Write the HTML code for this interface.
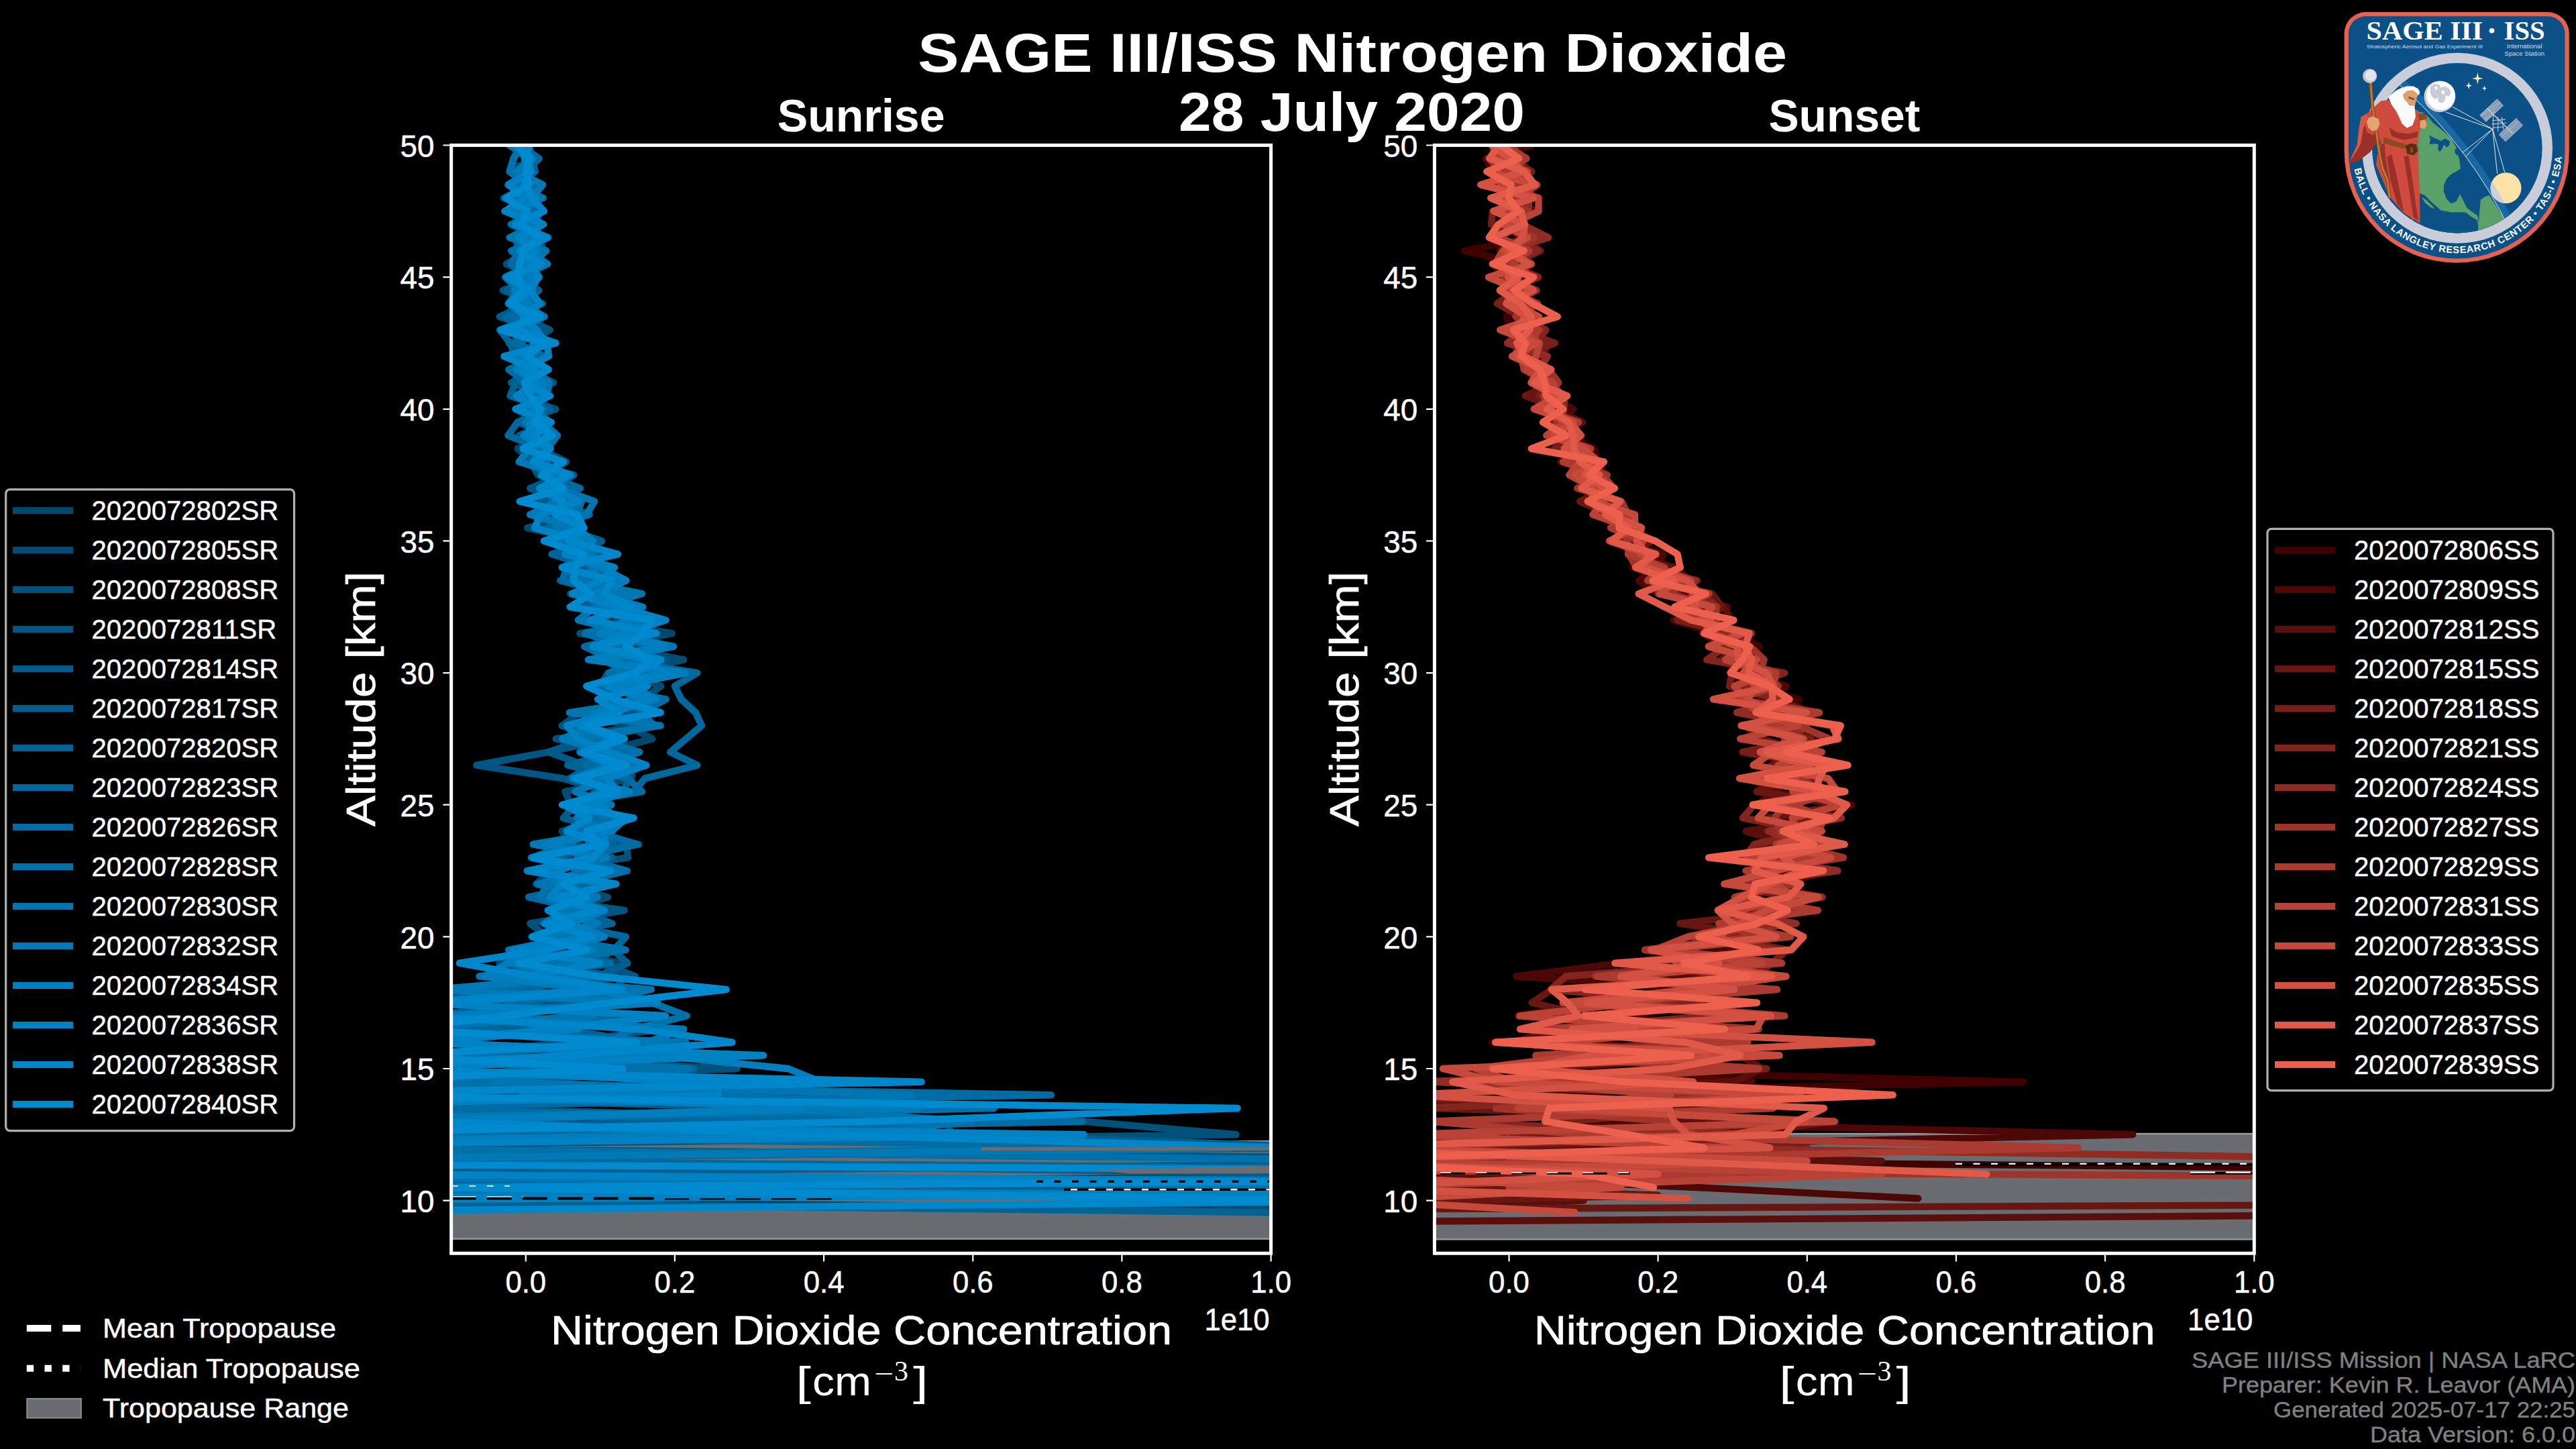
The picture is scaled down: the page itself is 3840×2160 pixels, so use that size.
<!DOCTYPE html>
<html lang="en"><head><meta charset="utf-8"><title>SAGE III/ISS Nitrogen Dioxide 28 July 2020</title>
<style>html,body{margin:0;padding:0;background:#000;overflow:hidden}svg{display:block}svg{font-family:"Liberation Sans",sans-serif;fill:#fff}</style></head><body>
<svg width="3840" height="2160" viewBox="0 0 3840 2160">
<rect width="3840" height="2160" fill="#000"/>
<text x="2016.2" y="106.9" font-size="81.4" font-weight="bold" text-anchor="middle" textLength="1296.0" lengthAdjust="spacingAndGlyphs">SAGE III/ISS Nitrogen Dioxide</text>
<text x="2015.0" y="195.2" font-size="81.4" font-weight="bold" text-anchor="middle" textLength="516.0" lengthAdjust="spacingAndGlyphs">28 July 2020</text>
<clipPath id="c1"><rect x="672.7" y="216.5" width="1221.9" height="1651.8"/></clipPath>
<g clip-path="url(#c1)">
<rect x="662.7" y="1701.2" width="1241.9" height="145.5" fill="#696c71" stroke="#97999c" stroke-width="2.5"/>
<g fill="none" stroke-width="10.4" stroke-linejoin="round" stroke-linecap="round">
<path d="M775.3,216.5 765.5,236.2 765.1,255.8 783.5,275.5 757.6,295.2 778.4,314.8 781.3,334.5 806.2,354.1 804.2,373.8 774.8,393.5 793.1,413.1 766.0,432.8 804.3,452.5 755.6,472.1 817.0,491.8 800.6,511.5 765.1,531.1 777.7,550.8 800.7,570.5 779.0,590.1 820.1,609.8 778.3,629.4 814.4,649.1 771.7,668.8 794.2,688.4 826.5,708.1 848.9,727.8 784.7,747.4 859.8,767.1 826.1,786.8 888.3,806.4 886.2,826.1 837.7,845.8 910.4,865.4 850.0,885.1 945.2,904.8 883.1,924.4 1001.5,944.1 912.9,963.7 964.9,983.4 970.0,1003.1 917.2,1022.7 988.8,1042.4 861.9,1062.1 934.8,1081.7 972.4,1101.4 895.8,1121.1 962.4,1140.7 876.1,1160.4 916.4,1180.0 843.8,1199.7 898.4,1219.4 837.7,1239.0 855.8,1258.7 911.4,1278.4 822.0,1298.0 798.9,1317.7 892.5,1337.4 831.4,1357.0 839.9,1376.7 839.5,1396.4 811.0,1416.0 927.0,1435.7 762.4,1455.3 847.5,1475.0 737.9,1494.7 876.1,1514.3 722.7,1534.0 932.5,1553.7 657.3,1573.3 1032.7,1593.0 754.5,1612.7 1265.9,1632.3 559.1,1652.0 1176.3,1671.7 331.3,1691.3 -304.4,1711.0 418.3,1730.6 3459.0,1750.3 -812.8,1770.0 502.7,1789.6 2742.4,1809.3" stroke="rgb(0,73,110)"/>
<path d="M773.0,216.5 802.9,236.2 783.0,255.8 764.1,275.5 796.5,295.2 769.2,314.8 806.3,334.5 779.8,354.1 787.3,373.8 754.8,393.5 798.4,413.1 788.5,432.8 765.8,452.5 804.1,472.1 776.4,491.8 797.2,511.5 774.8,531.1 810.0,550.8 767.3,570.5 805.9,590.1 815.8,609.8 797.4,629.4 814.1,649.1 805.5,668.8 844.1,688.4 814.2,708.1 841.2,727.8 814.8,747.4 866.2,767.1 786.3,786.8 877.0,806.4 881.6,826.1 875.8,845.8 888.2,865.4 869.7,885.1 893.9,904.8 926.9,924.4 883.7,944.1 914.9,963.7 1019.2,983.4 927.8,1003.1 985.3,1022.7 957.7,1042.4 863.8,1062.1 838.4,1081.7 906.2,1101.4 877.1,1121.1 943.4,1140.7 941.4,1160.4 842.6,1180.0 851.0,1199.7 872.0,1219.4 898.5,1239.0 844.9,1258.7 821.5,1278.4 907.9,1298.0 837.8,1317.7 906.1,1337.4 837.3,1357.0 898.8,1376.7 873.2,1396.4 882.3,1416.0 744.4,1435.7 860.4,1455.3 713.7,1475.0 873.4,1494.7 639.2,1514.3 864.1,1534.0 595.3,1553.7 630.0,1573.3 487.8,1593.0 1154.3,1612.7 473.7,1632.3 715.9,1652.0 1312.5,1671.7 503.0,1691.3 -164.8,1711.0 2762.4,1730.6 2271.7,1750.3 215.6,1770.0 3481.1,1789.6" stroke="rgb(0,77,117)"/>
<path d="M767.0,216.5 798.6,236.2 779.1,255.8 796.2,275.5 770.9,295.2 805.4,314.8 770.6,334.5 805.2,354.1 809.4,373.8 783.7,393.5 789.9,413.1 767.1,432.8 770.6,452.5 795.5,472.1 790.1,491.8 770.4,511.5 806.5,531.1 785.5,550.8 825.1,570.5 765.7,590.1 828.3,609.8 771.8,629.4 820.7,649.1 791.0,668.8 791.3,688.4 802.0,708.1 845.3,727.8 795.4,747.4 867.6,767.1 831.0,786.8 862.8,806.4 869.5,826.1 847.0,845.8 879.7,865.4 922.6,885.1 867.2,904.8 975.7,924.4 864.5,944.1 978.0,963.7 898.6,983.4 1006.3,1003.1 905.6,1022.7 967.4,1042.4 887.7,1062.1 960.3,1081.7 828.7,1101.4 916.7,1121.1 901.2,1140.7 910.3,1160.4 887.6,1180.0 863.1,1199.7 910.6,1219.4 870.5,1239.0 933.9,1258.7 936.1,1278.4 799.1,1298.0 888.1,1317.7 799.0,1337.4 901.0,1357.0 790.2,1376.7 815.9,1396.4 864.2,1416.0 810.9,1435.7 912.2,1455.3 675.5,1475.0 962.6,1494.7 644.0,1514.3 983.9,1534.0 849.8,1553.7 643.2,1573.3 1098.6,1593.0 509.7,1612.7 1377.9,1632.3 493.0,1652.0 1616.1,1671.7 1842.4,1691.3 263.9,1711.0 2292.7,1730.6 2382.2,1750.3 2584.5,1770.0" stroke="rgb(0,82,123)"/>
<path d="M778.6,216.5 793.1,236.2 760.3,255.8 797.1,275.5 784.1,295.2 803.2,314.8 764.9,334.5 806.1,354.1 777.9,373.8 787.5,393.5 804.4,413.1 749.7,432.8 804.7,452.5 779.4,472.1 819.7,491.8 758.6,511.5 781.5,531.1 792.7,550.8 802.9,570.5 772.0,590.1 795.8,609.8 819.4,629.4 773.6,649.1 806.7,668.8 779.4,688.4 839.9,708.1 790.1,727.8 839.9,747.4 812.0,767.1 864.0,786.8 823.0,806.4 899.9,826.1 860.7,845.8 912.6,865.4 868.8,885.1 918.1,904.8 946.6,924.4 882.3,944.1 905.3,963.7 991.8,983.4 927.4,1003.1 941.8,1022.7 893.7,1042.4 947.0,1062.1 837.5,1081.7 906.1,1101.4 817.1,1121.1 710.5,1140.7 839.3,1160.4 907.1,1180.0 875.8,1199.7 902.5,1219.4 847.9,1239.0 919.6,1258.7 826.6,1278.4 912.0,1298.0 887.8,1317.7 788.1,1337.4 930.5,1357.0 819.0,1376.7 860.8,1396.4 909.1,1416.0 895.9,1435.7 946.9,1455.3 747.6,1475.0 847.7,1494.7 732.8,1514.3 741.8,1534.0 646.7,1553.7 522.2,1573.3 869.4,1593.0 989.9,1612.7 732.5,1632.3 495.8,1652.0 1412.6,1671.7 1417.4,1691.3 490.6,1711.0 2481.7,1730.6 404.0,1750.3 2523.2,1770.0 3087.5,1789.6 2424.0,1809.3" stroke="rgb(0,86,130)"/>
<path d="M784.2,216.5 795.3,236.2 768.9,255.8 792.3,275.5 751.0,295.2 807.7,314.8 792.1,334.5 780.4,354.1 814.1,373.8 778.8,393.5 781.4,413.1 786.4,432.8 786.5,452.5 744.9,472.1 802.1,491.8 774.1,511.5 795.4,531.1 797.9,550.8 762.0,570.5 815.7,590.1 768.4,609.8 807.1,629.4 788.6,649.1 800.2,668.8 777.6,688.4 855.5,708.1 824.7,727.8 809.1,747.4 839.8,767.1 820.3,786.8 893.3,806.4 832.3,826.1 905.7,845.8 834.9,865.4 910.2,885.1 865.8,904.8 964.6,924.4 942.5,944.1 927.8,963.7 981.3,983.4 906.8,1003.1 894.4,1022.7 982.6,1042.4 909.2,1062.1 957.5,1081.7 872.4,1101.4 818.2,1121.1 870.6,1140.7 863.1,1160.4 913.8,1180.0 844.4,1199.7 935.6,1219.4 871.2,1239.0 952.2,1258.7 798.5,1278.4 924.3,1298.0 842.0,1317.7 874.8,1337.4 834.5,1357.0 818.9,1376.7 877.6,1396.4 894.1,1416.0 760.6,1435.7 919.8,1455.3 929.2,1475.0 726.1,1494.7 919.5,1514.3 630.5,1534.0 954.1,1553.7 645.9,1573.3 1001.8,1593.0 709.1,1612.7 493.8,1632.3 1153.7,1652.0 602.7,1671.7 662.3,1691.3 85.4,1711.0 614.0,1730.6 2031.6,1750.3" stroke="rgb(0,91,137)"/>
<path d="M758.6,216.5 794.1,236.2 781.7,255.8 780.0,275.5 792.6,295.2 775.7,314.8 809.0,334.5 773.3,354.1 769.2,373.8 782.9,393.5 783.3,413.1 756.4,432.8 808.7,452.5 755.7,472.1 774.7,491.8 769.1,511.5 808.1,531.1 802.7,550.8 795.7,570.5 774.9,590.1 817.0,609.8 790.5,629.4 814.4,649.1 788.9,668.8 835.4,688.4 822.4,708.1 854.2,727.8 831.5,747.4 825.9,767.1 839.4,786.8 897.1,806.4 862.9,826.1 888.4,845.8 864.8,865.4 926.2,885.1 945.7,904.8 943.2,924.4 952.7,944.1 968.9,963.7 938.9,983.4 914.5,1003.1 905.6,1022.7 959.2,1042.4 883.0,1062.1 975.9,1081.7 886.8,1101.4 933.8,1121.1 881.3,1140.7 849.1,1160.4 936.0,1180.0 857.3,1199.7 839.8,1219.4 913.5,1239.0 806.3,1258.7 912.8,1278.4 857.4,1298.0 849.8,1317.7 880.0,1337.4 860.0,1357.0 886.3,1376.7 815.1,1396.4 913.5,1416.0 935.4,1435.7 891.2,1455.3 702.2,1475.0 651.2,1494.7 934.6,1514.3 621.2,1534.0 953.0,1553.7 654.7,1573.3 873.6,1593.0 515.0,1612.7 1173.1,1632.3 537.8,1652.0 726.5,1671.7 1438.9,1691.3 2000.1,1711.0 2481.7,1730.6 433.2,1750.3 2120.5,1770.0 -361.4,1789.6" stroke="rgb(0,95,143)"/>
<path d="M788.9,216.5 792.7,236.2 797.7,255.8 768.4,275.5 801.1,295.2 773.5,314.8 787.1,334.5 810.5,354.1 771.0,373.8 785.3,393.5 771.3,413.1 803.2,432.8 779.2,452.5 798.5,472.1 745.0,491.8 760.6,511.5 768.0,531.1 801.0,550.8 768.8,570.5 760.5,590.1 819.5,609.8 777.8,629.4 820.5,649.1 819.8,668.8 787.8,688.4 850.1,708.1 806.1,727.8 857.3,747.4 848.5,767.1 815.1,786.8 877.2,806.4 822.4,826.1 885.4,845.8 875.9,865.4 936.7,885.1 876.8,904.8 940.1,924.4 892.6,944.1 968.7,963.7 926.2,983.4 976.2,1003.1 899.5,1022.7 970.8,1042.4 892.7,1062.1 963.1,1081.7 893.1,1101.4 921.2,1121.1 846.0,1140.7 937.7,1160.4 928.9,1180.0 860.6,1199.7 895.5,1219.4 850.7,1239.0 913.8,1258.7 806.6,1278.4 906.7,1298.0 805.8,1317.7 870.5,1337.4 858.1,1357.0 912.5,1376.7 802.1,1396.4 923.7,1416.0 809.8,1435.7 850.3,1455.3 658.8,1475.0 942.3,1494.7 595.1,1514.3 838.8,1534.0 956.5,1553.7 604.5,1573.3 1034.6,1593.0 513.3,1612.7 1288.7,1632.3 376.3,1652.0 1111.6,1671.7 715.9,1691.3 1994.3,1711.0 -108.7,1730.6 3243.0,1750.3 -143.7,1770.0 355.4,1789.6 2055.1,1809.3" stroke="rgb(0,99,150)"/>
<path d="M773.6,216.5 803.6,236.2 782.7,255.8 766.6,275.5 790.7,295.2 787.8,314.8 767.0,334.5 817.3,354.1 762.0,373.8 787.6,393.5 780.9,413.1 765.1,432.8 805.6,452.5 754.2,472.1 801.7,491.8 765.2,511.5 812.1,531.1 761.5,550.8 800.7,570.5 795.3,590.1 811.0,609.8 771.6,629.4 757.4,649.1 806.5,668.8 833.4,688.4 812.4,708.1 865.1,727.8 821.3,747.4 878.7,767.1 818.0,786.8 833.4,806.4 866.0,826.1 882.2,845.8 918.9,865.4 874.6,885.1 953.3,904.8 884.1,924.4 955.9,944.1 934.4,963.7 916.8,983.4 1039.3,1003.1 1005.9,1022.7 1015.5,1042.4 1037.0,1062.1 1045.9,1081.7 1022.6,1101.4 999.3,1121.1 1039.3,1140.7 961.5,1160.4 944.6,1180.0 851.5,1199.7 912.8,1219.4 858.2,1239.0 841.1,1258.7 893.5,1278.4 797.6,1298.0 876.1,1317.7 788.5,1337.4 875.0,1357.0 831.4,1376.7 933.0,1396.4 915.2,1416.0 753.7,1435.7 911.4,1455.3 769.2,1475.0 931.6,1494.7 662.1,1514.3 698.0,1534.0 970.0,1553.7 672.3,1573.3 1028.0,1593.0 511.0,1612.7 1091.4,1632.3 484.5,1652.0 1260.2,1671.7 365.2,1691.3 1907.1,1711.0 496.2,1730.6 3268.0,1750.3 -611.3,1770.0" stroke="rgb(0,104,156)"/>
<path d="M782.9,216.5 795.5,236.2 778.1,255.8 800.9,275.5 759.1,295.2 803.0,314.8 761.7,334.5 807.6,354.1 776.5,373.8 761.5,393.5 799.6,413.1 786.2,432.8 805.3,452.5 765.2,472.1 794.8,491.8 772.1,511.5 806.6,531.1 758.4,550.8 784.6,570.5 780.0,590.1 801.6,609.8 781.9,629.4 821.8,649.1 798.5,668.8 815.2,688.4 826.3,708.1 819.7,727.8 835.7,747.4 862.9,767.1 853.4,786.8 862.2,806.4 886.5,826.1 845.1,845.8 838.2,865.4 933.2,885.1 886.5,904.8 945.1,924.4 954.2,944.1 871.3,963.7 912.9,983.4 951.9,1003.1 881.5,1022.7 992.7,1042.4 955.2,1062.1 975.7,1081.7 862.7,1101.4 928.8,1121.1 873.3,1140.7 935.5,1160.4 957.1,1180.0 840.8,1199.7 884.6,1219.4 885.7,1239.0 949.5,1258.7 860.3,1278.4 935.0,1298.0 852.7,1317.7 890.3,1337.4 842.2,1357.0 811.3,1376.7 850.9,1396.4 760.9,1416.0 909.9,1435.7 751.4,1455.3 951.5,1475.0 757.3,1494.7 907.1,1514.3 589.0,1534.0 934.1,1553.7 647.2,1573.3 839.6,1593.0 466.7,1612.7 1566.9,1632.3 454.4,1652.0 1613.1,1671.7 620.7,1691.3 1776.6,1711.0 -123.8,1730.6 3386.9,1750.3 2027.9,1770.0 3126.7,1789.6" stroke="rgb(0,108,163)"/>
<path d="M779.2,216.5 765.3,236.2 759.6,255.8 787.8,275.5 762.2,295.2 786.8,314.8 767.1,334.5 808.2,354.1 764.6,373.8 795.2,393.5 779.1,413.1 776.9,432.8 768.2,452.5 805.6,472.1 768.4,491.8 802.8,511.5 794.2,531.1 769.4,550.8 794.1,570.5 803.0,590.1 797.4,609.8 819.5,629.4 783.3,649.1 792.1,668.8 800.4,688.4 833.4,708.1 826.1,727.8 867.1,747.4 859.1,767.1 867.1,786.8 848.6,806.4 878.7,826.1 839.1,845.8 865.6,865.4 910.1,885.1 897.6,904.8 968.5,924.4 872.8,944.1 930.6,963.7 956.6,983.4 908.2,1003.1 952.9,1022.7 890.9,1042.4 985.1,1062.1 860.2,1081.7 886.1,1101.4 953.2,1121.1 894.5,1140.7 885.5,1160.4 895.5,1180.0 848.3,1199.7 906.9,1219.4 863.9,1239.0 882.8,1258.7 808.0,1278.4 928.8,1298.0 815.3,1317.7 806.2,1337.4 872.1,1357.0 827.9,1376.7 808.4,1396.4 932.6,1416.0 802.4,1435.7 887.5,1455.3 700.6,1475.0 971.3,1494.7 1023.7,1514.3 945.0,1534.0 904.5,1553.7 673.3,1573.3 1028.4,1593.0 625.1,1612.7 1051.1,1632.3 1481.7,1652.0 523.3,1671.7 591.5,1691.3 398.2,1711.0 2160.2,1730.6 3060.5,1750.3 2890.2,1770.0 318.3,1789.6 429.9,1809.3" stroke="rgb(0,113,170)"/>
<path d="M761.1,216.5 787.1,236.2 787.8,255.8 757.3,275.5 809.6,295.2 752.3,314.8 800.1,334.5 759.6,354.1 813.7,373.8 793.8,393.5 753.2,413.1 773.6,432.8 757.6,452.5 785.7,472.1 774.9,491.8 801.6,511.5 787.7,531.1 795.7,550.8 819.0,570.5 815.0,590.1 792.5,609.8 808.5,629.4 830.9,649.1 816.1,668.8 802.0,688.4 843.6,708.1 833.1,727.8 886.1,747.4 874.3,767.1 829.6,786.8 874.4,806.4 865.2,826.1 887.4,845.8 858.7,865.4 957.1,885.1 887.3,904.8 861.9,924.4 944.4,944.1 886.1,963.7 901.9,983.4 931.7,1003.1 941.9,1022.7 978.9,1042.4 849.0,1062.1 984.6,1081.7 848.0,1101.4 890.9,1121.1 939.7,1140.7 887.5,1160.4 922.7,1180.0 864.8,1199.7 933.6,1219.4 863.3,1239.0 853.3,1258.7 791.8,1278.4 877.9,1298.0 801.3,1317.7 885.0,1337.4 853.2,1357.0 810.5,1376.7 866.1,1396.4 758.0,1416.0 879.7,1435.7 714.6,1455.3 970.7,1475.0 881.7,1494.7 884.6,1514.3 561.6,1534.0 1022.4,1553.7 599.8,1573.3 858.8,1593.0 736.5,1612.7 1358.9,1632.3 1150.9,1652.0 1446.9,1671.7 1275.9,1691.3 113.3,1711.0 -87.2,1730.6 70.3,1750.3 2237.1,1770.0" stroke="rgb(0,117,176)"/>
<path d="M771.2,216.5 793.4,236.2 770.5,255.8 809.1,275.5 792.5,295.2 760.2,314.8 803.6,334.5 792.3,354.1 786.6,373.8 816.2,393.5 774.2,413.1 793.4,432.8 778.4,452.5 811.6,472.1 767.3,491.8 808.1,511.5 775.9,531.1 778.3,550.8 815.6,570.5 775.8,590.1 806.0,609.8 783.8,629.4 821.4,649.1 790.0,668.8 773.7,688.4 837.6,708.1 835.8,727.8 831.2,747.4 790.0,767.1 859.0,786.8 830.5,806.4 882.0,826.1 884.1,845.8 892.2,865.4 929.5,885.1 893.2,904.8 955.7,924.4 903.9,944.1 1003.9,963.7 905.1,983.4 964.1,1003.1 938.4,1022.7 941.7,1042.4 885.9,1062.1 886.9,1081.7 838.3,1101.4 907.5,1121.1 903.3,1140.7 904.9,1160.4 857.4,1180.0 911.5,1199.7 859.9,1219.4 908.2,1239.0 794.6,1258.7 904.8,1278.4 808.1,1298.0 832.7,1317.7 890.4,1337.4 819.7,1357.0 891.2,1376.7 811.1,1396.4 885.3,1416.0 762.5,1435.7 878.3,1455.3 648.7,1475.0 937.1,1494.7 663.0,1514.3 1019.3,1534.0 965.1,1553.7 1035.2,1573.3 584.0,1593.0 1199.9,1612.7 496.9,1632.3 1369.1,1652.0 286.9,1671.7 1325.3,1691.3 1836.3,1711.0 267.8,1730.6 555.9,1750.3 144.2,1770.0 3381.3,1789.6" stroke="rgb(0,122,183)"/>
<path d="M778.9,216.5 787.3,236.2 786.3,255.8 782.0,275.5 799.9,295.2 781.0,314.8 809.1,334.5 776.8,354.1 801.3,373.8 773.5,393.5 797.0,413.1 766.7,432.8 789.4,452.5 787.6,472.1 787.4,491.8 795.8,511.5 789.4,531.1 769.4,550.8 806.1,570.5 813.0,590.1 773.4,609.8 820.7,629.4 780.4,649.1 817.3,668.8 796.6,688.4 850.7,708.1 808.6,727.8 839.5,747.4 854.5,767.1 858.9,786.8 884.1,806.4 850.1,826.1 896.6,845.8 933.4,865.4 885.8,885.1 958.2,904.8 934.9,924.4 894.8,944.1 990.6,963.7 876.9,983.4 1021.8,1003.1 924.8,1022.7 978.2,1042.4 891.7,1062.1 870.6,1081.7 921.1,1101.4 864.4,1121.1 911.9,1140.7 853.6,1160.4 938.8,1180.0 868.3,1199.7 934.3,1219.4 911.4,1239.0 815.0,1258.7 886.8,1278.4 785.6,1298.0 904.1,1317.7 840.4,1337.4 901.4,1357.0 850.2,1376.7 900.9,1396.4 815.2,1416.0 756.9,1435.7 722.3,1455.3 890.6,1475.0 980.4,1494.7 688.7,1514.3 862.1,1534.0 635.6,1553.7 980.8,1573.3 1174.8,1593.0 1223.4,1612.7 778.2,1632.3 1197.6,1652.0 627.2,1671.7 1118.8,1691.3 -159.4,1711.0 330.2,1730.6 551.2,1750.3 3265.6,1770.0 -320.6,1789.6 3.9,1809.3" stroke="rgb(0,126,190)"/>
<path d="M777.8,216.5 781.7,236.2 792.5,255.8 758.5,275.5 781.1,295.2 753.2,314.8 810.1,334.5 772.5,354.1 795.5,373.8 790.7,393.5 802.8,413.1 790.0,432.8 804.6,452.5 781.3,472.1 799.1,491.8 815.5,511.5 817.9,531.1 776.5,550.8 798.5,570.5 769.8,590.1 801.6,609.8 791.9,629.4 786.8,649.1 818.9,668.8 804.9,688.4 820.1,708.1 825.9,727.8 862.4,747.4 805.7,767.1 797.1,786.8 865.0,806.4 842.3,826.1 915.9,845.8 894.8,865.4 852.9,885.1 923.3,904.8 992.6,924.4 931.5,944.1 887.8,963.7 961.4,983.4 992.3,1003.1 905.5,1022.7 967.5,1042.4 915.3,1062.1 845.0,1081.7 861.2,1101.4 909.5,1121.1 963.5,1140.7 904.3,1160.4 922.0,1180.0 885.9,1199.7 925.1,1219.4 899.2,1239.0 903.3,1258.7 884.9,1278.4 833.6,1298.0 837.7,1317.7 820.1,1337.4 896.3,1357.0 812.3,1376.7 881.7,1396.4 765.7,1416.0 894.1,1435.7 785.7,1455.3 886.9,1475.0 623.3,1494.7 992.0,1514.3 823.8,1534.0 628.2,1553.7 1138.1,1573.3 557.6,1593.0 1070.3,1612.7 1070.4,1632.3 284.6,1652.0 268.2,1671.7 1615.8,1691.3 110.3,1711.0 -308.4,1730.6 506.3,1750.3 3237.8,1770.0 390.1,1789.6" stroke="rgb(0,130,196)"/>
<path d="M788.5,216.5 782.3,236.2 789.3,255.8 781.7,275.5 792.8,295.2 811.0,314.8 767.5,334.5 815.8,354.1 775.3,373.8 806.5,393.5 756.0,413.1 790.2,432.8 764.2,452.5 782.4,472.1 771.5,491.8 828.5,511.5 751.5,531.1 798.1,550.8 781.6,570.5 820.0,590.1 768.8,609.8 821.8,629.4 796.0,649.1 820.5,668.8 794.3,688.4 848.9,708.1 804.1,727.8 839.3,747.4 827.9,767.1 870.2,786.8 848.6,806.4 921.0,826.1 837.9,845.8 912.4,865.4 900.8,885.1 941.7,904.8 878.9,924.4 978.5,944.1 884.0,963.7 985.2,983.4 944.2,1003.1 965.0,1022.7 891.6,1042.4 922.6,1062.1 865.9,1081.7 918.8,1101.4 871.3,1121.1 913.2,1140.7 870.0,1160.4 907.1,1180.0 839.7,1199.7 878.2,1219.4 844.8,1239.0 902.2,1258.7 882.7,1278.4 789.2,1298.0 918.4,1317.7 832.7,1337.4 884.5,1357.0 814.5,1376.7 883.7,1396.4 811.6,1416.0 684.9,1435.7 795.5,1455.3 927.3,1475.0 666.9,1494.7 624.8,1514.3 954.5,1534.0 1091.5,1553.7 848.4,1573.3 465.2,1593.0 1373.6,1612.7 345.5,1632.3 516.0,1652.0 641.8,1671.7 1216.6,1691.3 1926.6,1711.0 2267.2,1730.6 3449.8,1750.3 3501.3,1770.0 2141.1,1789.6 111.3,1809.3" stroke="rgb(0,135,203)"/>
<path d="M768.9,216.5 790.5,236.2 783.9,255.8 788.5,275.5 754.6,295.2 785.0,314.8 778.0,334.5 803.6,354.1 780.0,373.8 774.7,393.5 773.3,413.1 779.5,432.8 759.5,452.5 806.1,472.1 746.7,491.8 810.9,511.5 785.4,531.1 817.6,550.8 782.4,570.5 790.4,590.1 806.0,609.8 797.0,629.4 823.5,649.1 779.5,668.8 840.0,688.4 807.0,708.1 840.2,727.8 774.7,747.4 860.3,767.1 870.4,786.8 810.8,806.4 871.0,826.1 857.1,845.8 855.1,865.4 880.5,885.1 849.6,904.8 971.2,924.4 957.4,944.1 933.0,963.7 968.5,983.4 946.1,1003.1 874.3,1022.7 915.7,1042.4 983.8,1062.1 875.2,1081.7 930.9,1101.4 870.7,1121.1 933.9,1140.7 857.7,1160.4 920.2,1180.0 838.0,1199.7 944.7,1219.4 874.7,1239.0 898.4,1258.7 795.6,1278.4 909.8,1298.0 839.4,1317.7 874.2,1337.4 816.7,1357.0 852.3,1376.7 792.9,1396.4 875.0,1416.0 774.0,1435.7 892.0,1455.3 1082.6,1475.0 912.4,1494.7 751.7,1514.3 594.6,1534.0 949.7,1553.7 574.2,1573.3 928.5,1593.0 489.8,1612.7 440.7,1632.3 1844.6,1652.0 1302.7,1671.7 349.4,1691.3 -55.5,1711.0 -545.3,1730.6 3401.7,1750.3 655.1,1770.0 2015.1,1789.6 2971.6,1809.3" stroke="rgb(0,139,209)"/>
</g>
<path d="M672.7 1786.5H990" stroke="#000" stroke-width="4.2" stroke-dasharray="37 16" fill="none"/>
<path d="M990.7 1787.4H1245" stroke="#000" stroke-width="2.4" stroke-dasharray="37 16" fill="none"/>
<path d="M672.7 1783.9H780" stroke="#fff" stroke-width="1.2" stroke-dasharray="37 16" fill="none"/>
<path d="M672.7 1768.0H760" stroke="#cfe6f5" stroke-width="2" stroke-dasharray="10 16.5" fill="none"/>
<path d="M1463 1709.9H1894.6V1715H1463Z" fill="#696c71"/>
<path d="M1626 1743.7L1894.6 1737.8V1749.5H1684Z" fill="#696c71"/>
<path d="M1545 1761.1H1894.6" stroke="#000" stroke-width="3.4" stroke-dasharray="10 16.5" fill="none"/>
<path d="M1586 1773.2H1894.6" stroke="#000" stroke-width="3.4" fill="none"/>
<path d="M1596 1773.2H1894.6" stroke="#fff" stroke-width="2.4" stroke-dasharray="10 16.5" fill="none"/>
</g>
<rect x="672.7" y="216.5" width="1221.9" height="1651.8" fill="none" stroke="#fff" stroke-width="5"/>
<path d="M670.2 1789.6h-9.8M670.2 1593.0h-9.8M670.2 1396.4h-9.8M670.2 1199.7h-9.8M670.2 1003.1h-9.8M670.2 806.4h-9.8M670.2 609.8h-9.8M670.2 413.1h-9.8M670.2 216.5h-9.8M783.8 1870.8v9.8M1005.9 1870.8v9.8M1228.1 1870.8v9.8M1450.3 1870.8v9.8M1672.4 1870.8v9.8M1894.6 1870.8v9.8" stroke="#fff" stroke-width="2.2" fill="none"/>
<clipPath id="c2"><rect x="2138.4" y="216.5" width="1221.9" height="1651.8"/></clipPath>
<g clip-path="url(#c2)">
<rect x="2128.4" y="1690.1" width="1241.9" height="157.3" fill="#696c71" stroke="#97999c" stroke-width="2.5"/>
<g fill="none" stroke-width="10.4" stroke-linejoin="round" stroke-linecap="round">
<path d="M2239.6,216.5 2262.4,236.2 2231.6,255.8 2290.9,275.5 2265.3,295.2 2258.4,314.8 2239.0,334.5 2288.3,354.1 2182.8,373.8 2270.7,393.5 2279.2,413.1 2262.7,432.8 2276.4,452.5 2245.5,472.1 2253.4,491.8 2257.0,511.5 2286.3,531.1 2282.4,550.8 2320.1,570.5 2307.5,590.1 2319.4,609.8 2339.0,629.4 2339.2,649.1 2377.1,668.8 2379.3,688.4 2395.6,708.1 2365.3,727.8 2410.6,747.4 2391.6,767.1 2425.2,786.8 2409.3,806.4 2471.7,826.1 2432.6,845.8 2497.5,865.4 2502.6,885.1 2557.1,904.8 2500.3,924.4 2586.7,944.1 2623.0,963.7 2579.5,983.4 2579.7,1003.1 2602.3,1022.7 2681.7,1042.4 2664.3,1062.1 2623.9,1081.7 2691.4,1101.4 2596.2,1121.1 2703.7,1140.7 2606.4,1160.4 2706.8,1180.0 2612.6,1199.7 2720.1,1219.4 2668.0,1239.0 2712.7,1258.7 2610.8,1278.4 2678.4,1298.0 2615.8,1317.7 2695.2,1337.4 2666.0,1357.0 2624.4,1376.7 2516.6,1396.4 2614.1,1416.0 2619.0,1435.7 2327.1,1455.3 2393.5,1475.0 2572.2,1494.7 2409.5,1514.3 2592.8,1534.0 2224.0,1553.7 2592.6,1573.3 2221.0,1593.0 3015.9,1612.7 2086.2,1632.3 2489.0,1652.0 2576.7,1671.7 2305.0,1691.3 2027.3,1711.0 2360.6,1730.6 4026.8,1746.4" stroke="rgb(64,0,0)"/>
<path d="M2283.3,216.5 2215.3,236.2 2224.2,255.8 2272.0,275.5 2237.4,295.2 2263.3,314.8 2253.7,334.5 2264.1,354.1 2235.1,373.8 2282.5,393.5 2242.3,413.1 2253.5,432.8 2241.5,452.5 2287.8,472.1 2257.3,491.8 2266.6,511.5 2288.0,531.1 2274.6,550.8 2316.0,570.5 2308.1,590.1 2345.0,609.8 2322.6,629.4 2357.2,649.1 2315.7,668.8 2364.9,688.4 2386.7,708.1 2373.8,727.8 2401.3,747.4 2393.4,767.1 2441.0,786.8 2419.0,806.4 2479.5,826.1 2470.6,845.8 2443.0,865.4 2472.1,885.1 2575.3,904.8 2494.4,924.4 2562.9,944.1 2581.3,963.7 2581.6,983.4 2584.3,1003.1 2662.8,1022.7 2621.6,1042.4 2667.5,1062.1 2641.1,1081.7 2704.0,1101.4 2634.2,1121.1 2725.3,1140.7 2680.3,1160.4 2633.7,1180.0 2760.5,1199.7 2676.4,1219.4 2612.7,1239.0 2693.3,1258.7 2650.3,1278.4 2708.5,1298.0 2619.5,1317.7 2717.4,1337.4 2603.8,1357.0 2653.1,1376.7 2539.1,1396.4 2592.4,1416.0 2417.0,1435.7 2260.6,1455.3 2543.1,1475.0 2373.0,1494.7 2263.0,1514.3 2566.3,1534.0 2266.3,1553.7 2581.2,1573.3 2293.9,1593.0 2611.6,1612.7 2178.6,1632.3 2563.8,1652.0 2348.4,1671.7 3179.2,1691.3 2249.5,1711.0 2638.3,1730.6 2082.9,1750.3 2527.2,1770.0 2859.3,1786.5" stroke="rgb(77,7,6)"/>
<path d="M2250.5,216.5 2260.2,236.2 2223.9,255.8 2262.2,275.5 2248.3,295.2 2291.3,314.8 2237.5,334.5 2232.3,354.1 2278.7,373.8 2227.4,393.5 2241.0,413.1 2264.1,432.8 2262.9,452.5 2290.9,472.1 2295.3,491.8 2268.6,511.5 2292.6,531.1 2282.5,550.8 2321.7,570.5 2315.6,590.1 2316.0,609.8 2359.2,629.4 2317.1,649.1 2356.8,668.8 2326.9,688.4 2382.3,708.1 2387.5,727.8 2394.6,747.4 2418.4,767.1 2439.3,786.8 2442.7,806.4 2426.8,826.1 2495.0,845.8 2519.6,865.4 2514.2,885.1 2571.0,904.8 2580.0,924.4 2538.4,944.1 2570.3,963.7 2614.3,983.4 2584.0,1003.1 2634.1,1022.7 2576.5,1042.4 2644.2,1062.1 2617.7,1081.7 2695.3,1101.4 2654.1,1121.1 2748.1,1140.7 2608.7,1160.4 2650.4,1180.0 2619.1,1199.7 2732.1,1219.4 2602.9,1239.0 2667.1,1258.7 2592.9,1278.4 2730.3,1298.0 2645.9,1317.7 2701.8,1337.4 2608.8,1357.0 2655.6,1376.7 2562.0,1396.4 2630.2,1416.0 2441.8,1435.7 2533.4,1455.3 2341.9,1475.0 2558.8,1494.7 2584.2,1514.3 2318.8,1534.0 2256.4,1553.7 2594.8,1573.3 2626.5,1593.0 2585.1,1612.7 2082.8,1632.3 2272.1,1652.0 2585.5,1671.7 2471.6,1691.3 1916.2,1711.0 2804.9,1730.6 2249.5,1750.3 1916.2,1770.0 2360.6,1789.6 1583.0,1824.3 3804.6,1809.3" stroke="rgb(91,15,12)"/>
<path d="M2241.7,216.5 2229.6,236.2 2272.3,255.8 2239.6,275.5 2250.5,295.2 2258.1,314.8 2254.2,334.5 2267.5,354.1 2296.6,373.8 2253.7,393.5 2266.0,413.1 2253.1,432.8 2281.4,452.5 2261.3,472.1 2267.6,491.8 2307.7,511.5 2299.2,531.1 2275.0,550.8 2319.7,570.5 2273.6,590.1 2328.7,609.8 2305.3,629.4 2353.5,649.1 2342.0,668.8 2352.7,688.4 2370.3,708.1 2395.9,727.8 2355.1,747.4 2399.9,767.1 2435.5,786.8 2461.7,806.4 2429.6,826.1 2474.2,845.8 2474.0,865.4 2552.0,885.1 2566.9,904.8 2539.5,924.4 2588.5,944.1 2583.2,963.7 2566.5,983.4 2626.8,1003.1 2593.5,1022.7 2647.4,1042.4 2699.2,1062.1 2602.3,1081.7 2624.6,1101.4 2693.6,1121.1 2640.7,1140.7 2669.7,1160.4 2618.6,1180.0 2748.5,1199.7 2635.0,1219.4 2677.8,1239.0 2614.5,1258.7 2710.0,1278.4 2651.8,1298.0 2670.5,1317.7 2604.7,1337.4 2678.3,1357.0 2504.3,1376.7 2636.2,1396.4 2489.7,1416.0 2557.3,1435.7 2654.8,1455.3 2313.3,1475.0 2283.5,1494.7 2368.4,1514.3 2559.3,1534.0 2325.3,1553.7 2628.0,1573.3 2257.3,1593.0 2270.8,1612.7 2171.6,1632.3 2139.4,1652.0 2734.6,1671.7 2582.7,1691.3 2249.5,1711.0 2027.3,1730.6 2582.7,1750.3 2138.4,1770.0 2471.6,1781.8 1583.0,1804.6 4026.8,1793.6" stroke="rgb(104,22,18)"/>
<path d="M2259.3,216.5 2253.2,236.2 2283.4,255.8 2238.7,275.5 2280.4,295.2 2225.0,314.8 2223.2,334.5 2282.4,354.1 2249.6,373.8 2279.6,393.5 2248.1,413.1 2261.3,432.8 2231.8,452.5 2266.9,472.1 2261.6,491.8 2317.8,511.5 2265.3,531.1 2304.6,550.8 2312.7,570.5 2293.7,590.1 2311.0,609.8 2331.1,629.4 2342.0,649.1 2317.7,668.8 2381.9,688.4 2385.7,708.1 2379.4,727.8 2410.8,747.4 2382.4,767.1 2432.1,786.8 2421.9,806.4 2463.2,826.1 2448.1,845.8 2529.9,865.4 2491.6,885.1 2537.7,904.8 2500.3,924.4 2582.7,944.1 2564.0,963.7 2596.1,983.4 2581.9,1003.1 2578.1,1022.7 2648.7,1042.4 2661.2,1062.1 2627.3,1081.7 2699.0,1101.4 2598.2,1121.1 2717.3,1140.7 2707.3,1160.4 2716.4,1180.0 2666.5,1199.7 2702.6,1219.4 2634.5,1239.0 2725.7,1258.7 2625.9,1278.4 2727.5,1298.0 2596.0,1317.7 2655.6,1337.4 2624.4,1357.0 2662.1,1376.7 2555.5,1396.4 2664.7,1416.0 2641.1,1435.7 2617.2,1455.3 2347.9,1475.0 2615.5,1494.7 2378.7,1514.3 2499.3,1534.0 2466.1,1553.7 2325.3,1573.3 2633.3,1593.0 2114.8,1612.7 1999.0,1632.3 2571.6,1652.0 2330.0,1671.7 2249.5,1691.3 2693.8,1711.0 2138.4,1730.6 2749.4,1750.3" stroke="rgb(118,30,24)"/>
<path d="M2256.8,216.5 2264.3,236.2 2237.9,255.8 2241.5,275.5 2277.7,295.2 2250.3,314.8 2244.3,334.5 2233.0,354.1 2293.0,373.8 2246.2,393.5 2293.1,413.1 2246.8,432.8 2283.9,452.5 2265.3,472.1 2304.3,491.8 2289.1,511.5 2259.5,531.1 2290.7,550.8 2282.5,570.5 2316.4,590.1 2301.9,609.8 2347.8,629.4 2322.3,649.1 2347.8,668.8 2342.9,688.4 2364.7,708.1 2383.4,727.8 2399.8,747.4 2403.9,767.1 2446.7,786.8 2406.6,806.4 2444.2,826.1 2438.5,845.8 2505.4,865.4 2535.3,885.1 2559.4,904.8 2529.6,924.4 2611.3,944.1 2572.5,963.7 2544.3,983.4 2660.1,1003.1 2601.3,1022.7 2647.1,1042.4 2643.1,1062.1 2691.8,1081.7 2675.0,1101.4 2696.2,1121.1 2706.6,1140.7 2687.1,1160.4 2721.8,1180.0 2614.9,1199.7 2597.9,1219.4 2701.9,1239.0 2615.9,1258.7 2598.9,1278.4 2677.6,1298.0 2643.6,1317.7 2684.3,1337.4 2568.3,1357.0 2615.9,1376.7 2615.1,1396.4 2465.3,1416.0 2580.0,1435.7 2334.6,1455.3 2311.6,1475.0 2530.3,1494.7 2555.9,1514.3 2309.4,1534.0 2597.5,1553.7 2393.4,1573.3 2522.5,1593.0 2181.7,1612.7 2548.4,1632.3 2128.6,1652.0 2114.0,1671.7 2638.3,1691.3 2082.9,1711.0 2582.7,1730.6" stroke="rgb(131,37,30)"/>
<path d="M2224.7,216.5 2237.4,236.2 2275.3,255.8 2213.5,275.5 2279.1,295.2 2278.4,314.8 2268.7,334.5 2308.1,354.1 2242.3,373.8 2283.4,393.5 2241.3,413.1 2290.4,432.8 2252.4,452.5 2279.3,472.1 2271.2,491.8 2247.0,511.5 2307.0,531.1 2294.6,550.8 2302.4,570.5 2331.7,590.1 2331.3,609.8 2325.6,629.4 2311.3,649.1 2368.5,668.8 2370.4,688.4 2389.6,708.1 2405.8,727.8 2376.0,747.4 2428.8,767.1 2405.4,786.8 2442.7,806.4 2436.4,826.1 2456.6,845.8 2527.7,865.4 2471.9,885.1 2560.0,904.8 2530.2,924.4 2577.9,944.1 2555.4,963.7 2604.9,983.4 2615.4,1003.1 2628.0,1022.7 2656.8,1042.4 2589.1,1062.1 2692.6,1081.7 2659.8,1101.4 2674.1,1121.1 2729.4,1140.7 2637.7,1160.4 2731.8,1180.0 2615.6,1199.7 2744.8,1219.4 2637.4,1239.0 2678.4,1258.7 2612.8,1278.4 2739.4,1298.0 2587.3,1317.7 2716.0,1337.4 2563.7,1357.0 2677.5,1376.7 2523.2,1396.4 2645.7,1416.0 2441.9,1435.7 2580.2,1455.3 2620.4,1475.0 2363.0,1494.7 2627.6,1514.3 2354.1,1534.0 2521.1,1553.7 2303.3,1573.3 2547.3,1593.0 2136.9,1612.7 2527.7,1632.3 2325.9,1652.0 2689.7,1671.7 2360.6,1691.3 2471.6,1711.0 3804.6,1730.6" stroke="rgb(144,44,36)"/>
<path d="M2253.9,216.5 2219.6,236.2 2238.5,255.8 2262.0,275.5 2241.6,295.2 2276.8,314.8 2239.9,334.5 2287.0,354.1 2243.9,373.8 2247.2,393.5 2241.4,413.1 2246.7,432.8 2292.3,452.5 2259.5,472.1 2295.4,491.8 2266.4,511.5 2257.5,531.1 2308.9,550.8 2323.3,570.5 2300.4,590.1 2316.8,609.8 2320.2,629.4 2317.4,649.1 2363.4,668.8 2342.5,688.4 2395.8,708.1 2351.2,727.8 2417.1,747.4 2426.7,767.1 2423.7,786.8 2425.4,806.4 2427.7,826.1 2439.7,845.8 2513.9,865.4 2487.3,885.1 2557.3,904.8 2559.5,924.4 2539.2,944.1 2608.7,963.7 2629.7,983.4 2623.2,1003.1 2651.0,1022.7 2588.5,1042.4 2622.9,1062.1 2680.8,1081.7 2727.0,1101.4 2682.3,1121.1 2711.7,1140.7 2687.8,1160.4 2707.3,1180.0 2658.0,1199.7 2645.9,1219.4 2653.6,1239.0 2670.8,1258.7 2747.9,1278.4 2620.0,1298.0 2672.4,1317.7 2585.6,1337.4 2633.8,1357.0 2573.6,1376.7 2613.4,1396.4 2451.9,1416.0 2607.2,1435.7 2378.6,1455.3 2572.2,1475.0 2360.1,1494.7 2324.8,1514.3 2621.8,1534.0 2266.8,1553.7 2573.4,1573.3 2550.7,1593.0 2186.5,1612.7 2669.2,1632.3 2229.7,1652.0 2492.3,1671.7 2527.2,1691.3 2027.3,1711.0 2527.2,1730.6 1583.0,1742.4 3915.7,1756.2" stroke="rgb(158,52,42)"/>
<path d="M2244.0,216.5 2275.4,236.2 2246.9,255.8 2291.4,275.5 2264.0,295.2 2243.2,314.8 2268.2,334.5 2233.4,354.1 2279.5,373.8 2253.9,393.5 2283.6,413.1 2266.7,432.8 2276.0,452.5 2272.7,472.1 2291.7,491.8 2285.4,511.5 2268.0,531.1 2271.7,550.8 2307.2,570.5 2331.5,590.1 2296.5,609.8 2353.1,629.4 2313.7,649.1 2371.3,668.8 2330.3,688.4 2386.6,708.1 2405.0,727.8 2366.8,747.4 2435.7,767.1 2401.0,786.8 2450.0,806.4 2427.0,826.1 2481.4,845.8 2456.1,865.4 2547.6,885.1 2504.3,904.8 2541.1,924.4 2546.3,944.1 2591.5,963.7 2587.2,983.4 2647.7,1003.1 2643.5,1022.7 2584.2,1042.4 2712.0,1062.1 2635.5,1081.7 2667.0,1101.4 2642.0,1121.1 2695.9,1140.7 2616.7,1160.4 2736.8,1180.0 2670.9,1199.7 2720.2,1219.4 2709.9,1239.0 2647.5,1258.7 2706.8,1278.4 2602.4,1298.0 2652.6,1317.7 2589.6,1337.4 2709.9,1357.0 2562.3,1376.7 2669.2,1396.4 2484.2,1416.0 2656.1,1435.7 2382.4,1455.3 2648.9,1475.0 2404.6,1494.7 2660.2,1514.3 2291.5,1534.0 2605.5,1553.7 2289.4,1573.3 2622.1,1593.0 2282.5,1612.7 2600.2,1632.3 2643.2,1652.0 2134.7,1671.7 2360.6,1691.3 3098.1,1711.0 2249.5,1730.6 2582.7,1750.3 2027.3,1770.0" stroke="rgb(171,59,48)"/>
<path d="M2223.7,216.5 2235.0,236.2 2277.1,255.8 2236.9,275.5 2293.5,295.2 2293.5,314.8 2251.7,334.5 2271.2,354.1 2240.0,373.8 2228.8,393.5 2261.3,413.1 2253.8,432.8 2245.9,452.5 2277.0,472.1 2260.9,491.8 2295.1,511.5 2289.6,531.1 2276.5,550.8 2314.6,570.5 2321.1,590.1 2301.9,609.8 2333.3,629.4 2305.3,649.1 2367.4,668.8 2354.4,688.4 2339.3,708.1 2376.3,727.8 2390.6,747.4 2374.5,767.1 2430.2,786.8 2447.4,806.4 2445.7,826.1 2469.3,845.8 2520.9,865.4 2523.2,885.1 2519.5,904.8 2549.7,924.4 2551.3,944.1 2604.7,963.7 2572.0,983.4 2637.8,1003.1 2585.6,1022.7 2603.6,1042.4 2617.8,1062.1 2680.0,1081.7 2594.3,1101.4 2715.7,1121.1 2650.5,1140.7 2677.7,1160.4 2672.3,1180.0 2745.7,1199.7 2671.7,1219.4 2678.9,1239.0 2727.6,1258.7 2603.6,1278.4 2707.4,1298.0 2646.3,1317.7 2674.1,1337.4 2591.8,1357.0 2612.9,1376.7 2516.1,1396.4 2466.7,1416.0 2626.6,1435.7 2435.7,1455.3 2540.2,1475.0 2438.4,1494.7 2265.3,1514.3 2519.2,1534.0 2334.2,1553.7 2356.1,1573.3 2199.8,1593.0 2257.1,1612.7 2490.4,1632.3 2262.4,1652.0 2734.8,1671.7 2082.9,1691.3 2582.7,1711.0 2027.3,1730.6 2804.9,1750.3 2249.5,1770.0" stroke="rgb(184,66,54)"/>
<path d="M2231.7,216.5 2264.6,236.2 2221.9,255.8 2286.9,275.5 2239.9,295.2 2256.4,314.8 2241.6,334.5 2277.1,354.1 2243.3,373.8 2282.2,393.5 2218.9,413.1 2264.8,432.8 2257.2,452.5 2294.1,472.1 2236.2,491.8 2290.4,511.5 2254.0,531.1 2296.8,550.8 2299.0,570.5 2321.7,590.1 2286.8,609.8 2345.6,629.4 2316.4,649.1 2359.9,668.8 2383.5,688.4 2348.9,708.1 2373.3,727.8 2373.4,747.4 2437.0,767.1 2437.1,786.8 2399.1,806.4 2456.6,826.1 2449.0,845.8 2499.7,865.4 2474.1,885.1 2552.2,904.8 2534.5,924.4 2597.8,944.1 2546.8,963.7 2618.8,983.4 2598.6,1003.1 2616.8,1022.7 2604.9,1042.4 2639.2,1062.1 2615.5,1081.7 2688.6,1101.4 2642.3,1121.1 2613.5,1140.7 2725.1,1160.4 2739.2,1180.0 2638.6,1199.7 2620.5,1219.4 2715.9,1239.0 2653.2,1258.7 2729.5,1278.4 2646.1,1298.0 2570.4,1317.7 2710.9,1337.4 2633.2,1357.0 2593.3,1376.7 2558.3,1396.4 2620.4,1416.0 2498.4,1435.7 2662.5,1455.3 2523.2,1475.0 2329.8,1494.7 2628.8,1514.3 2618.0,1534.0 2233.7,1553.7 2652.5,1573.3 2151.1,1593.0 2233.5,1612.7 2683.7,1632.3 2329.3,1652.0 2691.3,1671.7 2582.7,1691.3 2027.3,1711.0 2693.8,1730.6 1916.2,1750.3 2416.1,1770.0 2027.3,1789.6 2347.2,1807.3" stroke="rgb(198,74,60)"/>
<path d="M2225.3,216.5 2249.8,236.2 2270.2,255.8 2207.3,275.5 2285.8,295.2 2226.6,314.8 2273.1,334.5 2270.1,354.1 2250.6,373.8 2277.4,393.5 2248.3,413.1 2285.8,432.8 2245.3,452.5 2275.9,472.1 2257.4,491.8 2275.7,511.5 2261.4,531.1 2296.7,550.8 2282.7,570.5 2320.2,590.1 2308.6,609.8 2340.1,629.4 2356.8,649.1 2331.5,668.8 2377.6,688.4 2363.1,708.1 2391.5,727.8 2367.9,747.4 2401.6,767.1 2447.1,786.8 2439.8,806.4 2455.0,826.1 2451.3,845.8 2514.7,865.4 2533.9,885.1 2523.6,904.8 2549.5,924.4 2543.3,944.1 2589.4,963.7 2591.2,983.4 2632.8,1003.1 2644.0,1022.7 2554.1,1042.4 2693.0,1062.1 2595.6,1081.7 2683.8,1101.4 2623.7,1121.1 2697.8,1140.7 2593.1,1160.4 2711.5,1180.0 2636.9,1199.7 2718.1,1219.4 2683.0,1239.0 2736.0,1258.7 2658.2,1278.4 2685.1,1298.0 2638.5,1317.7 2596.3,1337.4 2560.6,1357.0 2582.3,1376.7 2647.9,1396.4 2461.1,1416.0 2562.5,1435.7 2415.9,1455.3 2585.0,1475.0 2365.5,1494.7 2640.2,1514.3 2343.4,1534.0 2790.5,1553.7 2369.3,1573.3 2274.1,1593.0 2524.0,1612.7 2096.5,1632.3 2488.3,1652.0 2495.0,1671.7 2516.1,1691.3 2638.3,1711.0 1916.2,1730.6 2471.6,1750.3 1971.8,1770.0 2516.1,1786.5" stroke="rgb(211,81,66)"/>
<path d="M2233.4,216.5 2220.7,236.2 2272.0,255.8 2288.2,275.5 2222.3,295.2 2267.6,314.8 2272.0,334.5 2225.6,354.1 2261.0,373.8 2235.3,393.5 2263.1,413.1 2235.7,432.8 2266.4,452.5 2282.6,472.1 2280.7,491.8 2261.2,511.5 2272.1,531.1 2312.2,550.8 2287.9,570.5 2336.2,590.1 2305.8,609.8 2338.4,629.4 2345.0,649.1 2346.7,668.8 2355.3,688.4 2384.1,708.1 2357.6,727.8 2415.2,747.4 2393.1,767.1 2426.8,786.8 2402.8,806.4 2468.5,826.1 2437.9,845.8 2495.6,865.4 2442.8,885.1 2481.6,904.8 2520.7,924.4 2607.7,944.1 2601.3,963.7 2610.9,983.4 2606.3,1003.1 2641.3,1022.7 2642.6,1042.4 2619.4,1062.1 2730.9,1081.7 2740.5,1101.4 2634.5,1121.1 2722.5,1140.7 2711.9,1160.4 2707.0,1180.0 2753.2,1199.7 2733.8,1219.4 2660.2,1239.0 2749.7,1258.7 2625.6,1278.4 2615.5,1298.0 2684.4,1317.7 2666.4,1337.4 2563.3,1357.0 2649.2,1376.7 2688.3,1396.4 2670.2,1416.0 2407.4,1435.7 2641.0,1455.3 2313.2,1475.0 2336.8,1494.7 2352.6,1514.3 2266.1,1534.0 2513.7,1553.7 2593.8,1573.3 2489.2,1593.0 2165.4,1612.7 2258.7,1632.3 2718.9,1652.0 2677.1,1671.7 2661.6,1691.3 1916.2,1711.0 2471.6,1730.6 2961.5,1750.3" stroke="rgb(225,89,72)"/>
<path d="M2237.5,216.5 2264.2,236.2 2216.4,255.8 2252.5,275.5 2249.2,295.2 2263.8,314.8 2233.7,334.5 2219.9,354.1 2271.6,373.8 2224.8,393.5 2286.3,413.1 2257.0,432.8 2285.1,452.5 2321.7,472.1 2256.0,491.8 2273.7,511.5 2267.7,531.1 2295.6,550.8 2302.9,570.5 2304.6,590.1 2330.2,609.8 2300.0,629.4 2334.9,649.1 2282.8,668.8 2391.0,688.4 2368.9,708.1 2406.9,727.8 2366.8,747.4 2414.3,767.1 2413.5,786.8 2467.5,806.4 2500.5,826.1 2504.7,845.8 2463.5,865.4 2542.9,885.1 2496.2,904.8 2584.4,924.4 2541.1,944.1 2608.3,963.7 2597.4,983.4 2579.6,1003.1 2637.2,1022.7 2667.5,1042.4 2617.8,1062.1 2743.8,1081.7 2735.0,1101.4 2663.2,1121.1 2754.5,1140.7 2634.3,1160.4 2750.3,1180.0 2612.8,1199.7 2727.5,1219.4 2657.7,1239.0 2703.8,1258.7 2547.2,1278.4 2718.1,1298.0 2616.1,1317.7 2611.1,1337.4 2664.8,1357.0 2619.5,1376.7 2532.1,1396.4 2621.1,1416.0 2510.6,1435.7 2605.2,1455.3 2363.0,1475.0 2619.0,1494.7 2361.7,1514.3 2570.7,1534.0 2229.2,1553.7 2521.1,1573.3 2225.2,1593.0 2420.9,1612.7 2821.6,1632.3 2309.5,1652.0 2303.4,1671.7 2427.2,1691.3 2540.5,1711.0 1916.2,1730.6 2360.6,1750.3 2465.0,1770.0" stroke="rgb(238,96,78)"/>
</g>
<path d="M2147 1749.2H2430" stroke="#000" stroke-width="3" stroke-dasharray="37 16" fill="none"/>
<path d="M2147 1747.9H2430" stroke="#fff" stroke-width="1.8" stroke-dasharray="16 37" fill="none"/>
<path d="M3265 1748.7H3360.3" stroke="#000" stroke-width="4" fill="none"/>
<path d="M3265 1747.7H3360.3" stroke="#fff" stroke-width="2.2" stroke-dasharray="37 16" fill="none"/>
<path d="M2915 1735.8H3360.3" stroke="#000" stroke-width="4" fill="none"/>
<path d="M2915 1734.8H3360.3" stroke="#fff" stroke-width="2.2" stroke-dasharray="10 16.5" fill="none"/>
</g>
<rect x="2138.4" y="216.5" width="1221.9" height="1651.8" fill="none" stroke="#fff" stroke-width="5"/>
<path d="M2135.9 1789.6h-9.8M2135.9 1593.0h-9.8M2135.9 1396.4h-9.8M2135.9 1199.7h-9.8M2135.9 1003.1h-9.8M2135.9 806.4h-9.8M2135.9 609.8h-9.8M2135.9 413.1h-9.8M2135.9 216.5h-9.8M2249.5 1870.8v9.8M2471.6 1870.8v9.8M2693.8 1870.8v9.8M2916.0 1870.8v9.8M3138.1 1870.8v9.8M3360.3 1870.8v9.8" stroke="#fff" stroke-width="2.2" fill="none"/>
<text x="647.5" y="1806.8" font-size="47" stroke="#fff" stroke-width="0.52" text-anchor="end" textLength="51.0" lengthAdjust="spacingAndGlyphs">10</text>
<text x="647.5" y="1610.2" font-size="47" stroke="#fff" stroke-width="0.52" text-anchor="end" textLength="51.0" lengthAdjust="spacingAndGlyphs">15</text>
<text x="647.5" y="1413.6" font-size="47" stroke="#fff" stroke-width="0.52" text-anchor="end" textLength="51.0" lengthAdjust="spacingAndGlyphs">20</text>
<text x="647.5" y="1216.9" font-size="47" stroke="#fff" stroke-width="0.52" text-anchor="end" textLength="51.0" lengthAdjust="spacingAndGlyphs">25</text>
<text x="647.5" y="1020.3" font-size="47" stroke="#fff" stroke-width="0.52" text-anchor="end" textLength="51.0" lengthAdjust="spacingAndGlyphs">30</text>
<text x="647.5" y="823.6" font-size="47" stroke="#fff" stroke-width="0.52" text-anchor="end" textLength="51.0" lengthAdjust="spacingAndGlyphs">35</text>
<text x="647.5" y="627.0" font-size="47" stroke="#fff" stroke-width="0.52" text-anchor="end" textLength="51.0" lengthAdjust="spacingAndGlyphs">40</text>
<text x="647.5" y="430.3" font-size="47" stroke="#fff" stroke-width="0.52" text-anchor="end" textLength="51.0" lengthAdjust="spacingAndGlyphs">45</text>
<text x="647.5" y="233.7" font-size="47" stroke="#fff" stroke-width="0.52" text-anchor="end" textLength="51.0" lengthAdjust="spacingAndGlyphs">50</text>
<text x="783.8" y="1926.8" font-size="47" stroke="#fff" stroke-width="0.52" text-anchor="middle" textLength="60.8" lengthAdjust="spacingAndGlyphs">0.0</text>
<text x="1005.9" y="1926.8" font-size="47" stroke="#fff" stroke-width="0.52" text-anchor="middle" textLength="60.8" lengthAdjust="spacingAndGlyphs">0.2</text>
<text x="1228.1" y="1926.8" font-size="47" stroke="#fff" stroke-width="0.52" text-anchor="middle" textLength="60.8" lengthAdjust="spacingAndGlyphs">0.4</text>
<text x="1450.3" y="1926.8" font-size="47" stroke="#fff" stroke-width="0.52" text-anchor="middle" textLength="60.8" lengthAdjust="spacingAndGlyphs">0.6</text>
<text x="1672.4" y="1926.8" font-size="47" stroke="#fff" stroke-width="0.52" text-anchor="middle" textLength="60.8" lengthAdjust="spacingAndGlyphs">0.8</text>
<text x="1894.6" y="1926.8" font-size="47" stroke="#fff" stroke-width="0.52" text-anchor="middle" textLength="60.8" lengthAdjust="spacingAndGlyphs">1.0</text>
<text x="1892.6" y="1983.2" font-size="47" stroke="#fff" stroke-width="0.52" text-anchor="end" textLength="97.2" lengthAdjust="spacingAndGlyphs">1e10</text>
<text x="1283.7" y="196.1" font-size="67.8" font-weight="bold" text-anchor="middle" textLength="250.0" lengthAdjust="spacingAndGlyphs">Sunrise</text>
<text x="1284.0" y="2004.1" font-size="61" stroke="#fff" stroke-width="0.67" text-anchor="middle" textLength="926.0" lengthAdjust="spacingAndGlyphs">Nitrogen Dioxide Concentration</text>
<text x="1186.2" y="2079.6" font-size="61" textLength="22.7" lengthAdjust="spacingAndGlyphs">[</text>
<text x="1211.1" y="2079.9" font-size="61" textLength="88" lengthAdjust="spacingAndGlyphs">cm</text>
<text x="1303.2" y="2061.6" font-size="42" font-family="Liberation Serif, DejaVu Serif, serif" textLength="29" lengthAdjust="spacingAndGlyphs">−</text>
<text x="1332.9" y="2058" font-size="42" font-family="Liberation Serif, DejaVu Serif, serif">3</text>
<text x="1360.9" y="2079.6" font-size="61" textLength="22.7" lengthAdjust="spacingAndGlyphs">]</text>
<text x="558.9" y="1042.0" font-size="61" stroke="#fff" stroke-width="0.67" text-anchor="middle" textLength="380.0" lengthAdjust="spacingAndGlyphs" transform="rotate(-90 558.9 1042.0)">Altitude [km]</text>
<text x="2113.2" y="1806.8" font-size="47" stroke="#fff" stroke-width="0.52" text-anchor="end" textLength="51.0" lengthAdjust="spacingAndGlyphs">10</text>
<text x="2113.2" y="1610.2" font-size="47" stroke="#fff" stroke-width="0.52" text-anchor="end" textLength="51.0" lengthAdjust="spacingAndGlyphs">15</text>
<text x="2113.2" y="1413.6" font-size="47" stroke="#fff" stroke-width="0.52" text-anchor="end" textLength="51.0" lengthAdjust="spacingAndGlyphs">20</text>
<text x="2113.2" y="1216.9" font-size="47" stroke="#fff" stroke-width="0.52" text-anchor="end" textLength="51.0" lengthAdjust="spacingAndGlyphs">25</text>
<text x="2113.2" y="1020.3" font-size="47" stroke="#fff" stroke-width="0.52" text-anchor="end" textLength="51.0" lengthAdjust="spacingAndGlyphs">30</text>
<text x="2113.2" y="823.6" font-size="47" stroke="#fff" stroke-width="0.52" text-anchor="end" textLength="51.0" lengthAdjust="spacingAndGlyphs">35</text>
<text x="2113.2" y="627.0" font-size="47" stroke="#fff" stroke-width="0.52" text-anchor="end" textLength="51.0" lengthAdjust="spacingAndGlyphs">40</text>
<text x="2113.2" y="430.3" font-size="47" stroke="#fff" stroke-width="0.52" text-anchor="end" textLength="51.0" lengthAdjust="spacingAndGlyphs">45</text>
<text x="2113.2" y="233.7" font-size="47" stroke="#fff" stroke-width="0.52" text-anchor="end" textLength="51.0" lengthAdjust="spacingAndGlyphs">50</text>
<text x="2249.5" y="1926.8" font-size="47" stroke="#fff" stroke-width="0.52" text-anchor="middle" textLength="60.8" lengthAdjust="spacingAndGlyphs">0.0</text>
<text x="2471.6" y="1926.8" font-size="47" stroke="#fff" stroke-width="0.52" text-anchor="middle" textLength="60.8" lengthAdjust="spacingAndGlyphs">0.2</text>
<text x="2693.8" y="1926.8" font-size="47" stroke="#fff" stroke-width="0.52" text-anchor="middle" textLength="60.8" lengthAdjust="spacingAndGlyphs">0.4</text>
<text x="2916.0" y="1926.8" font-size="47" stroke="#fff" stroke-width="0.52" text-anchor="middle" textLength="60.8" lengthAdjust="spacingAndGlyphs">0.6</text>
<text x="3138.1" y="1926.8" font-size="47" stroke="#fff" stroke-width="0.52" text-anchor="middle" textLength="60.8" lengthAdjust="spacingAndGlyphs">0.8</text>
<text x="3360.3" y="1926.8" font-size="47" stroke="#fff" stroke-width="0.52" text-anchor="middle" textLength="60.8" lengthAdjust="spacingAndGlyphs">1.0</text>
<text x="3358.3" y="1983.2" font-size="47" stroke="#fff" stroke-width="0.52" text-anchor="end" textLength="97.2" lengthAdjust="spacingAndGlyphs">1e10</text>
<text x="2749.4" y="196.1" font-size="67.8" font-weight="bold" text-anchor="middle" textLength="226.0" lengthAdjust="spacingAndGlyphs">Sunset</text>
<text x="2749.7" y="2004.1" font-size="61" stroke="#fff" stroke-width="0.67" text-anchor="middle" textLength="926.0" lengthAdjust="spacingAndGlyphs">Nitrogen Dioxide Concentration</text>
<text x="2651.9" y="2079.6" font-size="61" textLength="22.7" lengthAdjust="spacingAndGlyphs">[</text>
<text x="2676.8" y="2079.9" font-size="61" textLength="88" lengthAdjust="spacingAndGlyphs">cm</text>
<text x="2768.9" y="2061.6" font-size="42" font-family="Liberation Serif, DejaVu Serif, serif" textLength="29" lengthAdjust="spacingAndGlyphs">−</text>
<text x="2798.6" y="2058" font-size="42" font-family="Liberation Serif, DejaVu Serif, serif">3</text>
<text x="2826.6" y="2079.6" font-size="61" textLength="22.7" lengthAdjust="spacingAndGlyphs">]</text>
<text x="2024.6" y="1042.0" font-size="61" stroke="#fff" stroke-width="0.67" text-anchor="middle" textLength="380.0" lengthAdjust="spacingAndGlyphs" transform="rotate(-90 2024.6 1042.0)">Altitude [km]</text>
<rect x="8.7" y="729.7" width="429.8" height="955.9" rx="6" fill="#000" stroke="#b0b0b0" stroke-width="3.2"/>
<rect x="19.0" y="755.9" width="90.0" height="10.2" fill="rgb(0,73,110)"/>
<text x="136.5" y="774.6" font-size="40.7" stroke="#fff" stroke-width="0.45" textLength="278.7" lengthAdjust="spacingAndGlyphs">2020072802SR</text>
<rect x="19.0" y="814.9" width="90.0" height="10.2" fill="rgb(0,77,117)"/>
<text x="136.5" y="833.6" font-size="40.7" stroke="#fff" stroke-width="0.45" textLength="278.7" lengthAdjust="spacingAndGlyphs">2020072805SR</text>
<rect x="19.0" y="873.9" width="90.0" height="10.2" fill="rgb(0,82,123)"/>
<text x="136.5" y="892.6" font-size="40.7" stroke="#fff" stroke-width="0.45" textLength="278.7" lengthAdjust="spacingAndGlyphs">2020072808SR</text>
<rect x="19.0" y="932.9" width="90.0" height="10.2" fill="rgb(0,86,130)"/>
<text x="136.5" y="951.6" font-size="40.7" stroke="#fff" stroke-width="0.45" textLength="275.7" lengthAdjust="spacingAndGlyphs">2020072811SR</text>
<rect x="19.0" y="991.9" width="90.0" height="10.2" fill="rgb(0,91,137)"/>
<text x="136.5" y="1010.6" font-size="40.7" stroke="#fff" stroke-width="0.45" textLength="278.7" lengthAdjust="spacingAndGlyphs">2020072814SR</text>
<rect x="19.0" y="1050.9" width="90.0" height="10.2" fill="rgb(0,95,143)"/>
<text x="136.5" y="1069.6" font-size="40.7" stroke="#fff" stroke-width="0.45" textLength="278.7" lengthAdjust="spacingAndGlyphs">2020072817SR</text>
<rect x="19.0" y="1109.9" width="90.0" height="10.2" fill="rgb(0,99,150)"/>
<text x="136.5" y="1128.6" font-size="40.7" stroke="#fff" stroke-width="0.45" textLength="278.7" lengthAdjust="spacingAndGlyphs">2020072820SR</text>
<rect x="19.0" y="1168.9" width="90.0" height="10.2" fill="rgb(0,104,156)"/>
<text x="136.5" y="1187.6" font-size="40.7" stroke="#fff" stroke-width="0.45" textLength="278.7" lengthAdjust="spacingAndGlyphs">2020072823SR</text>
<rect x="19.0" y="1227.9" width="90.0" height="10.2" fill="rgb(0,108,163)"/>
<text x="136.5" y="1246.6" font-size="40.7" stroke="#fff" stroke-width="0.45" textLength="278.7" lengthAdjust="spacingAndGlyphs">2020072826SR</text>
<rect x="19.0" y="1286.9" width="90.0" height="10.2" fill="rgb(0,113,170)"/>
<text x="136.5" y="1305.6" font-size="40.7" stroke="#fff" stroke-width="0.45" textLength="278.7" lengthAdjust="spacingAndGlyphs">2020072828SR</text>
<rect x="19.0" y="1345.9" width="90.0" height="10.2" fill="rgb(0,117,176)"/>
<text x="136.5" y="1364.6" font-size="40.7" stroke="#fff" stroke-width="0.45" textLength="278.7" lengthAdjust="spacingAndGlyphs">2020072830SR</text>
<rect x="19.0" y="1404.9" width="90.0" height="10.2" fill="rgb(0,122,183)"/>
<text x="136.5" y="1423.6" font-size="40.7" stroke="#fff" stroke-width="0.45" textLength="278.7" lengthAdjust="spacingAndGlyphs">2020072832SR</text>
<rect x="19.0" y="1463.9" width="90.0" height="10.2" fill="rgb(0,126,190)"/>
<text x="136.5" y="1482.6" font-size="40.7" stroke="#fff" stroke-width="0.45" textLength="278.7" lengthAdjust="spacingAndGlyphs">2020072834SR</text>
<rect x="19.0" y="1522.9" width="90.0" height="10.2" fill="rgb(0,130,196)"/>
<text x="136.5" y="1541.6" font-size="40.7" stroke="#fff" stroke-width="0.45" textLength="278.7" lengthAdjust="spacingAndGlyphs">2020072836SR</text>
<rect x="19.0" y="1581.9" width="90.0" height="10.2" fill="rgb(0,135,203)"/>
<text x="136.5" y="1600.6" font-size="40.7" stroke="#fff" stroke-width="0.45" textLength="278.7" lengthAdjust="spacingAndGlyphs">2020072838SR</text>
<rect x="19.0" y="1640.9" width="90.0" height="10.2" fill="rgb(0,139,209)"/>
<text x="136.5" y="1659.6" font-size="40.7" stroke="#fff" stroke-width="0.45" textLength="278.7" lengthAdjust="spacingAndGlyphs">2020072840SR</text>
<rect x="3380.0" y="788.3" width="426.0" height="837.4" rx="6" fill="#000" stroke="#b0b0b0" stroke-width="3.2"/>
<rect x="3391.0" y="814.9" width="90.0" height="10.2" fill="rgb(64,0,0)"/>
<text x="3509.0" y="833.6" font-size="40.7" stroke="#fff" stroke-width="0.45" textLength="276.4" lengthAdjust="spacingAndGlyphs">2020072806SS</text>
<rect x="3391.0" y="873.9" width="90.0" height="10.2" fill="rgb(77,7,6)"/>
<text x="3509.0" y="892.6" font-size="40.7" stroke="#fff" stroke-width="0.45" textLength="276.4" lengthAdjust="spacingAndGlyphs">2020072809SS</text>
<rect x="3391.0" y="932.9" width="90.0" height="10.2" fill="rgb(91,15,12)"/>
<text x="3509.0" y="951.6" font-size="40.7" stroke="#fff" stroke-width="0.45" textLength="276.4" lengthAdjust="spacingAndGlyphs">2020072812SS</text>
<rect x="3391.0" y="991.9" width="90.0" height="10.2" fill="rgb(104,22,18)"/>
<text x="3509.0" y="1010.6" font-size="40.7" stroke="#fff" stroke-width="0.45" textLength="276.4" lengthAdjust="spacingAndGlyphs">2020072815SS</text>
<rect x="3391.0" y="1050.9" width="90.0" height="10.2" fill="rgb(118,30,24)"/>
<text x="3509.0" y="1069.6" font-size="40.7" stroke="#fff" stroke-width="0.45" textLength="276.4" lengthAdjust="spacingAndGlyphs">2020072818SS</text>
<rect x="3391.0" y="1109.9" width="90.0" height="10.2" fill="rgb(131,37,30)"/>
<text x="3509.0" y="1128.6" font-size="40.7" stroke="#fff" stroke-width="0.45" textLength="276.4" lengthAdjust="spacingAndGlyphs">2020072821SS</text>
<rect x="3391.0" y="1168.9" width="90.0" height="10.2" fill="rgb(144,44,36)"/>
<text x="3509.0" y="1187.6" font-size="40.7" stroke="#fff" stroke-width="0.45" textLength="276.4" lengthAdjust="spacingAndGlyphs">2020072824SS</text>
<rect x="3391.0" y="1227.9" width="90.0" height="10.2" fill="rgb(158,52,42)"/>
<text x="3509.0" y="1246.6" font-size="40.7" stroke="#fff" stroke-width="0.45" textLength="276.4" lengthAdjust="spacingAndGlyphs">2020072827SS</text>
<rect x="3391.0" y="1286.9" width="90.0" height="10.2" fill="rgb(171,59,48)"/>
<text x="3509.0" y="1305.6" font-size="40.7" stroke="#fff" stroke-width="0.45" textLength="276.4" lengthAdjust="spacingAndGlyphs">2020072829SS</text>
<rect x="3391.0" y="1345.9" width="90.0" height="10.2" fill="rgb(184,66,54)"/>
<text x="3509.0" y="1364.6" font-size="40.7" stroke="#fff" stroke-width="0.45" textLength="276.4" lengthAdjust="spacingAndGlyphs">2020072831SS</text>
<rect x="3391.0" y="1404.9" width="90.0" height="10.2" fill="rgb(198,74,60)"/>
<text x="3509.0" y="1423.6" font-size="40.7" stroke="#fff" stroke-width="0.45" textLength="276.4" lengthAdjust="spacingAndGlyphs">2020072833SS</text>
<rect x="3391.0" y="1463.9" width="90.0" height="10.2" fill="rgb(211,81,66)"/>
<text x="3509.0" y="1482.6" font-size="40.7" stroke="#fff" stroke-width="0.45" textLength="276.4" lengthAdjust="spacingAndGlyphs">2020072835SS</text>
<rect x="3391.0" y="1522.9" width="90.0" height="10.2" fill="rgb(225,89,72)"/>
<text x="3509.0" y="1541.6" font-size="40.7" stroke="#fff" stroke-width="0.45" textLength="276.4" lengthAdjust="spacingAndGlyphs">2020072837SS</text>
<rect x="3391.0" y="1581.9" width="90.0" height="10.2" fill="rgb(238,96,78)"/>
<text x="3509.0" y="1600.6" font-size="40.7" stroke="#fff" stroke-width="0.45" textLength="276.4" lengthAdjust="spacingAndGlyphs">2020072839SS</text>
<path d="M39.8 1980.1h80.2" stroke="#fff" stroke-width="10" stroke-dasharray="36.5 16.9" fill="none"/>
<path d="M39.8 2039.8h80.2" stroke="#fff" stroke-width="10" stroke-dasharray="10.4 16.3" fill="none"/>
<rect x="40.3" y="2085" width="80.6" height="28.6" fill="#696c71" stroke="#8c8e92" stroke-width="2"/>
<text x="153.0" y="1993.8" font-size="40.7" stroke="#fff" stroke-width="0.45" textLength="348.0" lengthAdjust="spacingAndGlyphs">Mean Tropopause</text>
<text x="153.0" y="2053.6" font-size="40.7" stroke="#fff" stroke-width="0.45" textLength="384.0" lengthAdjust="spacingAndGlyphs">Median Tropopause</text>
<text x="153.0" y="2113.2" font-size="40.7" stroke="#fff" stroke-width="0.45" textLength="367.0" lengthAdjust="spacingAndGlyphs">Tropopause Range</text>
<text x="3839.0" y="2038.6" font-size="33.9" stroke="#808080" stroke-width="0.37" text-anchor="end" fill="#808080" textLength="572.0" lengthAdjust="spacingAndGlyphs">SAGE III/ISS Mission | NASA LaRC</text>
<text x="3839.0" y="2076.2" font-size="33.9" stroke="#808080" stroke-width="0.37" text-anchor="end" fill="#808080" textLength="527.0" lengthAdjust="spacingAndGlyphs">Preparer: Kevin R. Leavor (AMA)</text>
<text x="3839.0" y="2113.4" font-size="33.9" stroke="#808080" stroke-width="0.37" text-anchor="end" fill="#808080" textLength="450.0" lengthAdjust="spacingAndGlyphs">Generated 2025-07-17 22:25</text>
<text x="3839.0" y="2150.4" font-size="33.9" stroke="#808080" stroke-width="0.37" text-anchor="end" fill="#808080" textLength="306.0" lengthAdjust="spacingAndGlyphs">Data Version: 6.0.0</text>
<g>
<path d="M3526.6 18.0H3797.8A32 32 0 0 1 3829.8 50.0V226.0A167.6 165.8 0 0 1 3494.6 226.0V50.0A32 32 0 0 1 3526.6 18.0Z" fill="#e86050"/>
<path d="M3526.6 24.3H3797.8A25.7 25.7 0 0 1 3823.5 50.0V226.0A161.3 159.5 0 0 1 3500.9 226.0V50.0A25.7 25.7 0 0 1 3526.6 24.3Z" fill="#0b5087"/>
<circle cx="3663.0" cy="220.7" r="142" fill="#c9ccd9"/>
<clipPath id="lc"><circle cx="3663.0" cy="220.7" r="126.7"/></clipPath>
<circle cx="3663.0" cy="220.7" r="126.7" fill="#0b5087"/>
<g clip-path="url(#lc)">
<circle cx="3136.0" cy="632.0" r="681.5" fill="#1968a6"/>
<circle cx="3136.0" cy="632.0" r="671.0" fill="#0b5087" stroke="#fff" stroke-width="0.9"/>
<clipPath id="ec"><circle cx="3136.0" cy="632.0" r="670.5"/></clipPath>
<g clip-path="url(#ec)">
<path d="M3594.6,165.4 3610.8,167.2 3619.7,174.3 3626.9,183.3 3635.9,190.5 3644.9,197.7 3653.8,206.6 3661.0,219.2 3662.8,226.4 3666.4,238.9 3667.8,251.5 3661.0,256.0 3653.8,259.6 3647.0,266.7 3643.1,276.6 3642.7,285.6 3647.0,296.4 3653.8,303.5 3661.9,299.9 3666.8,289.2 3670.9,296.4 3677.2,309.8 3686.1,316.4 3693.3,321.5 3695.1,330.4 3694.7,344.8 3594.6,344.8Z" fill="#5aa069"/>
<path d="M3694.7,344.8 3695.5,323.3 3697.8,298.1 3703.2,293.7 3710.4,291.0 3716.6,299.9 3725.6,314.3 3736.4,330.4 3736.4,344.8Z" fill="#5aa069"/>
<path d="M3621.2,201.6 3626.9,204.8 3633.2,207.5 3638.6,209.9 3644.9,206.6 3652.0,210.6 3651.1,216.5 3647.0,219.6 3643.1,215.6 3639.8,223.1 3636.8,226.4 3634.1,221.9 3635.0,215.6 3629.6,213.8 3625.1,215.6 3621.5,213.8 3623.0,208.4Z" fill="#0b5087"/>
<path d="M3659.2,221.9 3663.2,223.1 3665.0,229.1 3661.9,231.8 3659.6,227.3Z" fill="#0b5087"/>
<path d="M3607.2,288.3 3614.4,291.0 3625.1,301.7 3638.6,313.4 3653.8,316.4 3675.4,316.4 3684.3,323.3 3693.3,328.7 3694.4,344.8 3596.4,344.8 3596.4,288.3Z" fill="#0b5087"/>
<path d="M3609.9,293.7 3617.0,298.1 3626.9,308.0 3628.7,311.6 3621.5,308.0 3614.4,301.7Z" fill="#5aa069"/>
</g>
<circle cx="3636.8" cy="143.8" r="23.4" fill="#c9ccd7"/>
<circle cx="3638.4" cy="142.6" r="21.6" fill="#fdfdfe"/>
<path d="M3623.3,128.6 3629.6,125.0 3635.9,125.9 3638.6,130.4 3644.9,128.6 3651.1,132.2 3653.8,138.4 3650.2,143.8 3645.8,142.0 3644.9,149.2 3640.4,153.7 3635.0,151.9 3634.1,145.6 3629.6,148.3 3625.1,143.8 3622.4,136.7Z" fill="#c9ccd7"/>
<path d="M3628.7,130.4 3632.3,128.6 3634.1,132.2 3630.9,134.0Z" fill="#fdfdfe"/>
<path d="M3638.6,135.8 3643.1,134.9 3644.9,139.3 3641.3,141.1Z" fill="#fdfdfe"/>
<clipPath id="sc"><circle cx="3735.5" cy="280.2" r="23"/></clipPath>
<circle cx="3735.5" cy="280.2" r="23" fill="#fde2a6"/>
<circle cx="3136.0" cy="632.0" r="682.5" fill="#cdd0d9" clip-path="url(#sc)"/>
<path d="M3715.7 192.3L3655.6 159.1" stroke="#fff" stroke-width="0.9"/>
<path d="M3715.7 192.3L3645.8 167.2" stroke="#fff" stroke-width="0.9"/>
<path d="M3715.7 192.3L3670.9 227.3" stroke="#fff" stroke-width="0.9"/>
<path d="M3715.7 192.3L3675.4 233.5" stroke="#fff" stroke-width="0.9"/>
<path d="M3715.7 192.3L3722.6 258.7" stroke="#fff" stroke-width="0.9"/>
<path d="M3715.7 192.3L3733.7 256.9" stroke="#fff" stroke-width="0.9"/>
<path d="M3693.3,107.7 3694.9,115.3 3701.6,116.9 3694.9,118.5 3693.3,126.1 3691.7,118.5 3685.0,116.9 3691.7,115.3Z" fill="#ffe7ad"/>
<path d="M3680.2,122.1 3681.3,126.6 3685.2,127.7 3681.3,128.8 3680.2,133.3 3679.1,128.8 3675.2,127.7 3679.1,126.6Z" fill="#fff"/>
<path d="M3703.5,127.4 3704.4,130.7 3707.3,131.6 3704.4,132.5 3703.5,135.8 3702.6,132.5 3699.7,131.6 3702.6,130.7Z" fill="#fff"/>
<path d="M3696.7 172.2L3723.0 147.6M3697.9 173.5L3724.2 148.9M3699.1 174.8L3725.5 150.2M3700.4 176.1L3726.7 151.5M3701.6 177.4L3727.9 152.8M3702.8 178.7L3729.1 154.1M3704.0 180.0L3730.3 155.4M3705.2 181.3L3731.5 156.7" stroke="#c4c7d2" stroke-width="1.25" fill="none"/>
<path d="M3725.3 201.1L3751.6 176.6M3726.6 202.5L3752.9 178.0M3727.9 203.9L3754.2 179.4M3729.2 205.3L3755.5 180.7M3730.5 206.7L3756.8 182.1M3731.8 208.1L3758.1 183.5M3733.1 209.5L3759.4 184.9M3734.4 210.9L3760.7 186.3" stroke="#c4c7d2" stroke-width="1.3" fill="none"/>
<path d="M3707.3 161.4L3745.7 198.7" stroke="#cfc9bd" stroke-width="1.5"/>
<path d="M3716.6 171.6L3716.6 193.2M3723.8 174.3L3723.8 195.9M3729.2 174.3L3731.9 193.2M3714.8 179.7L3734.6 177.9M3714.8 185.1L3736.4 183.3M3716.6 190.5L3732.8 189.0" stroke="#c4c6d0" stroke-width="1.1" fill="none"/>
</g>
<path d="M3528.6,168.9 3519.6,174.3 3516.6,190.5 3513.7,215.6 3502.9,239.8 3502.2,244.6 3516.9,239.3 3533.1,226.7 3541.1,215.6 3549.2,213.8 3543.8,197.6 3536.6,190.5Z" fill="#9a3027"/>
<path d="M3561.8,149.2 3549.2,150.6 3536.6,161.8 3528.6,168.9 3524.1,183.3 3528.6,197.6 3537.5,201.2 3543.8,197.6 3549.2,213.8 3543.8,229.9 3542.0,246.1 3549.2,262.2 3561.8,292.7 3583.3,317.8 3607.5,333.1 3607.0,287.3 3604.8,233.5 3603.9,215.6 3606.6,197.6 3608.8,190.5 3615.9,187.8 3614.1,174.3 3604.8,165.3 3597.6,161.8 3590.5,165.3 3574.3,165.3Z" fill="#cf4b3d"/>
<path d="M3528.6,168.9 3519.6,174.3 3516.6,190.5 3513.7,215.6 3502.9,239.8 3507.9,233.5 3518.7,215.6 3523.2,190.5 3528.6,179.7Z" fill="#d9584a"/>
<path d="M3558.2,233.5 3565.3,229.9 3574.3,269.4 3583.3,316.0 3574.3,305.3 3563.6,269.4Z" fill="#9a3027"/>
<path d="M3583.3,233.5 3590.5,231.7 3597.6,278.4 3604.8,328.6 3597.6,323.2 3590.5,278.4Z" fill="#9a3027"/>
<path d="M3549.2,215.6 3554.6,213.8 3556.4,237.1 3561.8,269.4 3552.8,251.5 3547.4,233.5Z" fill="#9a3027"/>
<path d="M3561.8,190.5 3574.3,197.6 3590.5,199.4 3604.8,195.8 3603.0,204.8 3583.3,208.4 3565.3,203.0Z" fill="#9a3027"/>
<path d="M3552.4,206.6 3554.6,204.8 3574.3,212.0 3604.8,219.2 3604.8,226.3 3574.3,219.5 3553.7,213.8Z" fill="#8b4a22"/>
<path d="M3586.0,217.7 3593.2,213.8 3602.1,215.6 3603.4,226.3 3597.6,231.7 3588.3,229.0Z" fill="#5c2a14"/>
<text x="3594.6" y="227.2" font-size="10" font-family="Liberation Serif, serif" font-style="italic" fill="#c9844a" text-anchor="middle">S</text>
<path d="M3533.6,122.3 3537.0,161.8 3542.4,197.6 3547.8,233.5 3551.9,251.5 3558.5,266.7 3562.1,293.6" fill="none" stroke="#7a4518" stroke-width="5" stroke-linecap="round"/>
<path d="M3533.6,122.3 3537.0,161.8 3542.4,197.6 3547.8,233.5 3551.9,251.5 3558.5,266.7 3562.1,293.6" fill="none" stroke="#bf772f" stroke-width="3" stroke-linecap="round"/>
<circle cx="3532.7" cy="113.3" r="10.6" fill="#c3c6d2"/>
<circle cx="3533.9" cy="112.5" r="8.2" fill="#e4e6ec"/>
<path d="M3530.4,176.1 3536.6,173.4 3545.6,177.0 3547.4,185.1 3543.8,193.2 3536.6,195.8 3530.4,190.5 3528.0,182.4Z" fill="#e2a56e"/>
<path d="M3604.8,169.8 3613.8,168.9 3617.7,174.3 3615.6,186.9 3607.5,186.9Z" fill="#8b4a22"/>
<path d="M3607.5,179.7 3615.6,177.9 3617.7,186.9 3613.8,192.3 3607.5,190.5Z" fill="#e2a56e"/>
<path d="M3560.3,144.7 3565.3,140.2 3571.6,134.9 3579.7,130.9 3587.8,128.6 3597.6,128.6 3604.8,132.2 3607.5,138.1 3604.8,142.0 3590.5,143.8 3586.9,149.2 3593.2,159.1 3599.8,161.8 3600.9,174.3 3596.2,186.9 3587.8,190.8 3580.6,184.2 3576.1,174.3 3571.6,165.3 3565.3,156.4Z" fill="#fbfbfb"/>
<path d="M3588.3,135.2 3597.3,134.5 3604.1,140.6 3601.6,150.1 3599.8,157.8 3593.2,156.7 3588.3,152.8 3583.3,147.1 3581.9,141.1Z" fill="#dfa06a"/>
<path d="M3590.5,156.7 3599.8,157.8 3599.1,163.6 3592.3,161.8Z" fill="#fbfbfb"/>
<path d="M3590.5,143.8 3599.4,147.1 3598.7,149.2 3590.5,146.7Z" fill="#7a4a2a"/>
<text y="58.6" font-size="40.5" font-weight="bold" font-family="Liberation Serif, serif"><tspan x="3527.6" textLength="173.5" lengthAdjust="spacingAndGlyphs">SAGE III</tspan><tspan x="3709.4" y="55.2" font-size="28">•</tspan><tspan x="3732.6" y="58.6" textLength="61" lengthAdjust="spacingAndGlyphs">ISS</tspan></text>
<text x="3528" y="71.6" font-size="8" fill="#d3deec" textLength="173" lengthAdjust="spacingAndGlyphs">Stratospheric Aerosol and Gas Experiment III</text>
<text x="3763.3" y="72" font-size="9.3" fill="#d3deec" text-anchor="middle" textLength="52.5" lengthAdjust="spacingAndGlyphs">International</text>
<text x="3763.3" y="82.7" font-size="9.3" fill="#d3deec" text-anchor="middle" textLength="59.5" lengthAdjust="spacingAndGlyphs">Space Station</text>
<path id="arc" d="M3509.6 251.9A156.5 156.5 0 0 0 3819.1 231.6" fill="none"/>
<text font-size="14.6" font-weight="bold" textLength="447.3" lengthAdjust="spacing"><textPath href="#arc" textLength="447.3" lengthAdjust="spacing">BALL • NASA LANGLEY RESEARCH CENTER • TAS-I • ESA</textPath></text>
</g>
</svg>
</body></html>
